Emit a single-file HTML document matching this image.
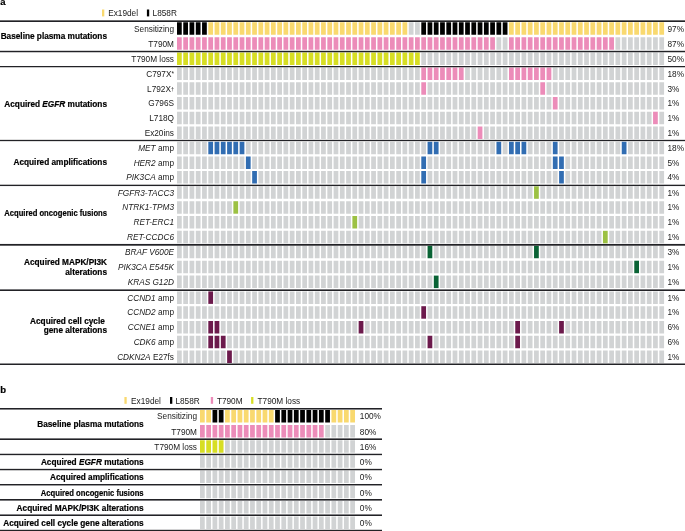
<!DOCTYPE html><html><head><meta charset="utf-8"><style>html,body{margin:0;padding:0;background:#fff;width:685px;height:531px;overflow:hidden}svg{display:block}text{font-family:"Liberation Sans",sans-serif;fill:#1a1a1a}text[font-weight=bold]{fill:#000;stroke:#000;stroke-width:0.2px}svg{will-change:transform}</style></head><body>
<svg width="685" height="531" viewBox="0 0 685 531">
<path fill="#000000" d="M177.00 22.30h4.75v12.5h-4.75zM183.26 22.30h4.75v12.5h-4.75zM189.53 22.30h4.75v12.5h-4.75zM195.79 22.30h4.75v12.5h-4.75zM202.06 22.30h4.75v12.5h-4.75zM421.30 22.30h4.75v12.5h-4.75zM427.56 22.30h4.75v12.5h-4.75zM433.82 22.30h4.75v12.5h-4.75zM440.09 22.30h4.75v12.5h-4.75zM446.35 22.30h4.75v12.5h-4.75zM452.62 22.30h4.75v12.5h-4.75zM458.88 22.30h4.75v12.5h-4.75zM465.14 22.30h4.75v12.5h-4.75zM471.41 22.30h4.75v12.5h-4.75zM477.67 22.30h4.75v12.5h-4.75zM483.94 22.30h4.75v12.5h-4.75zM490.20 22.30h4.75v12.5h-4.75zM496.46 22.30h4.75v12.5h-4.75zM502.73 22.30h4.75v12.5h-4.75z"/>
<path fill="#f9d96f" d="M208.32 22.30h4.75v12.5h-4.75zM214.58 22.30h4.75v12.5h-4.75zM220.85 22.30h4.75v12.5h-4.75zM227.11 22.30h4.75v12.5h-4.75zM233.38 22.30h4.75v12.5h-4.75zM239.64 22.30h4.75v12.5h-4.75zM245.90 22.30h4.75v12.5h-4.75zM252.17 22.30h4.75v12.5h-4.75zM258.43 22.30h4.75v12.5h-4.75zM264.70 22.30h4.75v12.5h-4.75zM270.96 22.30h4.75v12.5h-4.75zM277.22 22.30h4.75v12.5h-4.75zM283.49 22.30h4.75v12.5h-4.75zM289.75 22.30h4.75v12.5h-4.75zM296.02 22.30h4.75v12.5h-4.75zM302.28 22.30h4.75v12.5h-4.75zM308.54 22.30h4.75v12.5h-4.75zM314.81 22.30h4.75v12.5h-4.75zM321.07 22.30h4.75v12.5h-4.75zM327.34 22.30h4.75v12.5h-4.75zM333.60 22.30h4.75v12.5h-4.75zM339.86 22.30h4.75v12.5h-4.75zM346.13 22.30h4.75v12.5h-4.75zM352.39 22.30h4.75v12.5h-4.75zM358.66 22.30h4.75v12.5h-4.75zM364.92 22.30h4.75v12.5h-4.75zM371.18 22.30h4.75v12.5h-4.75zM377.45 22.30h4.75v12.5h-4.75zM383.71 22.30h4.75v12.5h-4.75zM389.98 22.30h4.75v12.5h-4.75zM396.24 22.30h4.75v12.5h-4.75zM402.50 22.30h4.75v12.5h-4.75zM508.99 22.30h4.75v12.5h-4.75zM515.26 22.30h4.75v12.5h-4.75zM521.52 22.30h4.75v12.5h-4.75zM527.78 22.30h4.75v12.5h-4.75zM534.05 22.30h4.75v12.5h-4.75zM540.31 22.30h4.75v12.5h-4.75zM546.58 22.30h4.75v12.5h-4.75zM552.84 22.30h4.75v12.5h-4.75zM559.10 22.30h4.75v12.5h-4.75zM565.37 22.30h4.75v12.5h-4.75zM571.63 22.30h4.75v12.5h-4.75zM577.90 22.30h4.75v12.5h-4.75zM584.16 22.30h4.75v12.5h-4.75zM590.42 22.30h4.75v12.5h-4.75zM596.69 22.30h4.75v12.5h-4.75zM602.95 22.30h4.75v12.5h-4.75zM609.22 22.30h4.75v12.5h-4.75zM615.48 22.30h4.75v12.5h-4.75zM621.74 22.30h4.75v12.5h-4.75zM628.01 22.30h4.75v12.5h-4.75zM634.27 22.30h4.75v12.5h-4.75zM640.54 22.30h4.75v12.5h-4.75zM646.80 22.30h4.75v12.5h-4.75zM653.06 22.30h4.75v12.5h-4.75zM659.33 22.30h4.75v12.5h-4.75z"/>
<path fill="#d1d3d4" d="M408.77 22.30h4.75v12.5h-4.75zM415.03 22.30h4.75v12.5h-4.75z"/>
<path fill="#ec8cb9" d="M177.00 37.20h4.75v12.5h-4.75zM183.26 37.20h4.75v12.5h-4.75zM189.53 37.20h4.75v12.5h-4.75zM195.79 37.20h4.75v12.5h-4.75zM202.06 37.20h4.75v12.5h-4.75zM208.32 37.20h4.75v12.5h-4.75zM214.58 37.20h4.75v12.5h-4.75zM220.85 37.20h4.75v12.5h-4.75zM227.11 37.20h4.75v12.5h-4.75zM233.38 37.20h4.75v12.5h-4.75zM239.64 37.20h4.75v12.5h-4.75zM245.90 37.20h4.75v12.5h-4.75zM252.17 37.20h4.75v12.5h-4.75zM258.43 37.20h4.75v12.5h-4.75zM264.70 37.20h4.75v12.5h-4.75zM270.96 37.20h4.75v12.5h-4.75zM277.22 37.20h4.75v12.5h-4.75zM283.49 37.20h4.75v12.5h-4.75zM289.75 37.20h4.75v12.5h-4.75zM296.02 37.20h4.75v12.5h-4.75zM302.28 37.20h4.75v12.5h-4.75zM308.54 37.20h4.75v12.5h-4.75zM314.81 37.20h4.75v12.5h-4.75zM321.07 37.20h4.75v12.5h-4.75zM327.34 37.20h4.75v12.5h-4.75zM333.60 37.20h4.75v12.5h-4.75zM339.86 37.20h4.75v12.5h-4.75zM346.13 37.20h4.75v12.5h-4.75zM352.39 37.20h4.75v12.5h-4.75zM358.66 37.20h4.75v12.5h-4.75zM364.92 37.20h4.75v12.5h-4.75zM371.18 37.20h4.75v12.5h-4.75zM377.45 37.20h4.75v12.5h-4.75zM383.71 37.20h4.75v12.5h-4.75zM389.98 37.20h4.75v12.5h-4.75zM396.24 37.20h4.75v12.5h-4.75zM402.50 37.20h4.75v12.5h-4.75zM408.77 37.20h4.75v12.5h-4.75zM415.03 37.20h4.75v12.5h-4.75zM421.30 37.20h4.75v12.5h-4.75zM427.56 37.20h4.75v12.5h-4.75zM433.82 37.20h4.75v12.5h-4.75zM440.09 37.20h4.75v12.5h-4.75zM446.35 37.20h4.75v12.5h-4.75zM452.62 37.20h4.75v12.5h-4.75zM458.88 37.20h4.75v12.5h-4.75zM465.14 37.20h4.75v12.5h-4.75zM471.41 37.20h4.75v12.5h-4.75zM477.67 37.20h4.75v12.5h-4.75zM483.94 37.20h4.75v12.5h-4.75zM490.20 37.20h4.75v12.5h-4.75zM508.99 37.20h4.75v12.5h-4.75zM515.26 37.20h4.75v12.5h-4.75zM521.52 37.20h4.75v12.5h-4.75zM527.78 37.20h4.75v12.5h-4.75zM534.05 37.20h4.75v12.5h-4.75zM540.31 37.20h4.75v12.5h-4.75zM546.58 37.20h4.75v12.5h-4.75zM552.84 37.20h4.75v12.5h-4.75zM559.10 37.20h4.75v12.5h-4.75zM565.37 37.20h4.75v12.5h-4.75zM571.63 37.20h4.75v12.5h-4.75zM577.90 37.20h4.75v12.5h-4.75zM584.16 37.20h4.75v12.5h-4.75zM590.42 37.20h4.75v12.5h-4.75zM596.69 37.20h4.75v12.5h-4.75zM602.95 37.20h4.75v12.5h-4.75zM609.22 37.20h4.75v12.5h-4.75z"/>
<path fill="#d1d3d4" d="M496.46 37.20h4.75v12.5h-4.75zM502.73 37.20h4.75v12.5h-4.75zM615.48 37.20h4.75v12.5h-4.75zM621.74 37.20h4.75v12.5h-4.75zM628.01 37.20h4.75v12.5h-4.75zM634.27 37.20h4.75v12.5h-4.75zM640.54 37.20h4.75v12.5h-4.75zM646.80 37.20h4.75v12.5h-4.75zM653.06 37.20h4.75v12.5h-4.75zM659.33 37.20h4.75v12.5h-4.75z"/>
<path fill="#d7de24" d="M177.00 52.50h4.75v12.5h-4.75zM183.26 52.50h4.75v12.5h-4.75zM189.53 52.50h4.75v12.5h-4.75zM195.79 52.50h4.75v12.5h-4.75zM202.06 52.50h4.75v12.5h-4.75zM208.32 52.50h4.75v12.5h-4.75zM214.58 52.50h4.75v12.5h-4.75zM220.85 52.50h4.75v12.5h-4.75zM227.11 52.50h4.75v12.5h-4.75zM233.38 52.50h4.75v12.5h-4.75zM239.64 52.50h4.75v12.5h-4.75zM245.90 52.50h4.75v12.5h-4.75zM252.17 52.50h4.75v12.5h-4.75zM258.43 52.50h4.75v12.5h-4.75zM264.70 52.50h4.75v12.5h-4.75zM270.96 52.50h4.75v12.5h-4.75zM277.22 52.50h4.75v12.5h-4.75zM283.49 52.50h4.75v12.5h-4.75zM289.75 52.50h4.75v12.5h-4.75zM296.02 52.50h4.75v12.5h-4.75zM302.28 52.50h4.75v12.5h-4.75zM308.54 52.50h4.75v12.5h-4.75zM314.81 52.50h4.75v12.5h-4.75zM321.07 52.50h4.75v12.5h-4.75zM327.34 52.50h4.75v12.5h-4.75zM333.60 52.50h4.75v12.5h-4.75zM339.86 52.50h4.75v12.5h-4.75zM346.13 52.50h4.75v12.5h-4.75zM352.39 52.50h4.75v12.5h-4.75zM358.66 52.50h4.75v12.5h-4.75zM364.92 52.50h4.75v12.5h-4.75zM371.18 52.50h4.75v12.5h-4.75zM377.45 52.50h4.75v12.5h-4.75zM383.71 52.50h4.75v12.5h-4.75zM389.98 52.50h4.75v12.5h-4.75zM396.24 52.50h4.75v12.5h-4.75zM402.50 52.50h4.75v12.5h-4.75zM408.77 52.50h4.75v12.5h-4.75zM415.03 52.50h4.75v12.5h-4.75z"/>
<path fill="#d1d3d4" d="M421.30 52.50h4.75v12.5h-4.75zM427.56 52.50h4.75v12.5h-4.75zM433.82 52.50h4.75v12.5h-4.75zM440.09 52.50h4.75v12.5h-4.75zM446.35 52.50h4.75v12.5h-4.75zM452.62 52.50h4.75v12.5h-4.75zM458.88 52.50h4.75v12.5h-4.75zM465.14 52.50h4.75v12.5h-4.75zM471.41 52.50h4.75v12.5h-4.75zM477.67 52.50h4.75v12.5h-4.75zM483.94 52.50h4.75v12.5h-4.75zM490.20 52.50h4.75v12.5h-4.75zM496.46 52.50h4.75v12.5h-4.75zM502.73 52.50h4.75v12.5h-4.75zM508.99 52.50h4.75v12.5h-4.75zM515.26 52.50h4.75v12.5h-4.75zM521.52 52.50h4.75v12.5h-4.75zM527.78 52.50h4.75v12.5h-4.75zM534.05 52.50h4.75v12.5h-4.75zM540.31 52.50h4.75v12.5h-4.75zM546.58 52.50h4.75v12.5h-4.75zM552.84 52.50h4.75v12.5h-4.75zM559.10 52.50h4.75v12.5h-4.75zM565.37 52.50h4.75v12.5h-4.75zM571.63 52.50h4.75v12.5h-4.75zM577.90 52.50h4.75v12.5h-4.75zM584.16 52.50h4.75v12.5h-4.75zM590.42 52.50h4.75v12.5h-4.75zM596.69 52.50h4.75v12.5h-4.75zM602.95 52.50h4.75v12.5h-4.75zM609.22 52.50h4.75v12.5h-4.75zM615.48 52.50h4.75v12.5h-4.75zM621.74 52.50h4.75v12.5h-4.75zM628.01 52.50h4.75v12.5h-4.75zM634.27 52.50h4.75v12.5h-4.75zM640.54 52.50h4.75v12.5h-4.75zM646.80 52.50h4.75v12.5h-4.75zM653.06 52.50h4.75v12.5h-4.75zM659.33 52.50h4.75v12.5h-4.75z"/>
<path fill="#ec8cb9" d="M421.30 67.60h4.75v12.5h-4.75zM427.56 67.60h4.75v12.5h-4.75zM433.82 67.60h4.75v12.5h-4.75zM440.09 67.60h4.75v12.5h-4.75zM446.35 67.60h4.75v12.5h-4.75zM452.62 67.60h4.75v12.5h-4.75zM458.88 67.60h4.75v12.5h-4.75zM508.99 67.60h4.75v12.5h-4.75zM515.26 67.60h4.75v12.5h-4.75zM521.52 67.60h4.75v12.5h-4.75zM527.78 67.60h4.75v12.5h-4.75zM534.05 67.60h4.75v12.5h-4.75zM540.31 67.60h4.75v12.5h-4.75zM546.58 67.60h4.75v12.5h-4.75z"/>
<path fill="#d1d3d4" d="M177.00 67.60h4.75v12.5h-4.75zM183.26 67.60h4.75v12.5h-4.75zM189.53 67.60h4.75v12.5h-4.75zM195.79 67.60h4.75v12.5h-4.75zM202.06 67.60h4.75v12.5h-4.75zM208.32 67.60h4.75v12.5h-4.75zM214.58 67.60h4.75v12.5h-4.75zM220.85 67.60h4.75v12.5h-4.75zM227.11 67.60h4.75v12.5h-4.75zM233.38 67.60h4.75v12.5h-4.75zM239.64 67.60h4.75v12.5h-4.75zM245.90 67.60h4.75v12.5h-4.75zM252.17 67.60h4.75v12.5h-4.75zM258.43 67.60h4.75v12.5h-4.75zM264.70 67.60h4.75v12.5h-4.75zM270.96 67.60h4.75v12.5h-4.75zM277.22 67.60h4.75v12.5h-4.75zM283.49 67.60h4.75v12.5h-4.75zM289.75 67.60h4.75v12.5h-4.75zM296.02 67.60h4.75v12.5h-4.75zM302.28 67.60h4.75v12.5h-4.75zM308.54 67.60h4.75v12.5h-4.75zM314.81 67.60h4.75v12.5h-4.75zM321.07 67.60h4.75v12.5h-4.75zM327.34 67.60h4.75v12.5h-4.75zM333.60 67.60h4.75v12.5h-4.75zM339.86 67.60h4.75v12.5h-4.75zM346.13 67.60h4.75v12.5h-4.75zM352.39 67.60h4.75v12.5h-4.75zM358.66 67.60h4.75v12.5h-4.75zM364.92 67.60h4.75v12.5h-4.75zM371.18 67.60h4.75v12.5h-4.75zM377.45 67.60h4.75v12.5h-4.75zM383.71 67.60h4.75v12.5h-4.75zM389.98 67.60h4.75v12.5h-4.75zM396.24 67.60h4.75v12.5h-4.75zM402.50 67.60h4.75v12.5h-4.75zM408.77 67.60h4.75v12.5h-4.75zM415.03 67.60h4.75v12.5h-4.75zM465.14 67.60h4.75v12.5h-4.75zM471.41 67.60h4.75v12.5h-4.75zM477.67 67.60h4.75v12.5h-4.75zM483.94 67.60h4.75v12.5h-4.75zM490.20 67.60h4.75v12.5h-4.75zM496.46 67.60h4.75v12.5h-4.75zM502.73 67.60h4.75v12.5h-4.75zM552.84 67.60h4.75v12.5h-4.75zM559.10 67.60h4.75v12.5h-4.75zM565.37 67.60h4.75v12.5h-4.75zM571.63 67.60h4.75v12.5h-4.75zM577.90 67.60h4.75v12.5h-4.75zM584.16 67.60h4.75v12.5h-4.75zM590.42 67.60h4.75v12.5h-4.75zM596.69 67.60h4.75v12.5h-4.75zM602.95 67.60h4.75v12.5h-4.75zM609.22 67.60h4.75v12.5h-4.75zM615.48 67.60h4.75v12.5h-4.75zM621.74 67.60h4.75v12.5h-4.75zM628.01 67.60h4.75v12.5h-4.75zM634.27 67.60h4.75v12.5h-4.75zM640.54 67.60h4.75v12.5h-4.75zM646.80 67.60h4.75v12.5h-4.75zM653.06 67.60h4.75v12.5h-4.75zM659.33 67.60h4.75v12.5h-4.75z"/>
<path fill="#ec8cb9" d="M421.30 82.30h4.75v12.5h-4.75zM540.31 82.30h4.75v12.5h-4.75z"/>
<path fill="#d1d3d4" d="M177.00 82.30h4.75v12.5h-4.75zM183.26 82.30h4.75v12.5h-4.75zM189.53 82.30h4.75v12.5h-4.75zM195.79 82.30h4.75v12.5h-4.75zM202.06 82.30h4.75v12.5h-4.75zM208.32 82.30h4.75v12.5h-4.75zM214.58 82.30h4.75v12.5h-4.75zM220.85 82.30h4.75v12.5h-4.75zM227.11 82.30h4.75v12.5h-4.75zM233.38 82.30h4.75v12.5h-4.75zM239.64 82.30h4.75v12.5h-4.75zM245.90 82.30h4.75v12.5h-4.75zM252.17 82.30h4.75v12.5h-4.75zM258.43 82.30h4.75v12.5h-4.75zM264.70 82.30h4.75v12.5h-4.75zM270.96 82.30h4.75v12.5h-4.75zM277.22 82.30h4.75v12.5h-4.75zM283.49 82.30h4.75v12.5h-4.75zM289.75 82.30h4.75v12.5h-4.75zM296.02 82.30h4.75v12.5h-4.75zM302.28 82.30h4.75v12.5h-4.75zM308.54 82.30h4.75v12.5h-4.75zM314.81 82.30h4.75v12.5h-4.75zM321.07 82.30h4.75v12.5h-4.75zM327.34 82.30h4.75v12.5h-4.75zM333.60 82.30h4.75v12.5h-4.75zM339.86 82.30h4.75v12.5h-4.75zM346.13 82.30h4.75v12.5h-4.75zM352.39 82.30h4.75v12.5h-4.75zM358.66 82.30h4.75v12.5h-4.75zM364.92 82.30h4.75v12.5h-4.75zM371.18 82.30h4.75v12.5h-4.75zM377.45 82.30h4.75v12.5h-4.75zM383.71 82.30h4.75v12.5h-4.75zM389.98 82.30h4.75v12.5h-4.75zM396.24 82.30h4.75v12.5h-4.75zM402.50 82.30h4.75v12.5h-4.75zM408.77 82.30h4.75v12.5h-4.75zM415.03 82.30h4.75v12.5h-4.75zM427.56 82.30h4.75v12.5h-4.75zM433.82 82.30h4.75v12.5h-4.75zM440.09 82.30h4.75v12.5h-4.75zM446.35 82.30h4.75v12.5h-4.75zM452.62 82.30h4.75v12.5h-4.75zM458.88 82.30h4.75v12.5h-4.75zM465.14 82.30h4.75v12.5h-4.75zM471.41 82.30h4.75v12.5h-4.75zM477.67 82.30h4.75v12.5h-4.75zM483.94 82.30h4.75v12.5h-4.75zM490.20 82.30h4.75v12.5h-4.75zM496.46 82.30h4.75v12.5h-4.75zM502.73 82.30h4.75v12.5h-4.75zM508.99 82.30h4.75v12.5h-4.75zM515.26 82.30h4.75v12.5h-4.75zM521.52 82.30h4.75v12.5h-4.75zM527.78 82.30h4.75v12.5h-4.75zM534.05 82.30h4.75v12.5h-4.75zM546.58 82.30h4.75v12.5h-4.75zM552.84 82.30h4.75v12.5h-4.75zM559.10 82.30h4.75v12.5h-4.75zM565.37 82.30h4.75v12.5h-4.75zM571.63 82.30h4.75v12.5h-4.75zM577.90 82.30h4.75v12.5h-4.75zM584.16 82.30h4.75v12.5h-4.75zM590.42 82.30h4.75v12.5h-4.75zM596.69 82.30h4.75v12.5h-4.75zM602.95 82.30h4.75v12.5h-4.75zM609.22 82.30h4.75v12.5h-4.75zM615.48 82.30h4.75v12.5h-4.75zM621.74 82.30h4.75v12.5h-4.75zM628.01 82.30h4.75v12.5h-4.75zM634.27 82.30h4.75v12.5h-4.75zM640.54 82.30h4.75v12.5h-4.75zM646.80 82.30h4.75v12.5h-4.75zM653.06 82.30h4.75v12.5h-4.75zM659.33 82.30h4.75v12.5h-4.75z"/>
<path fill="#ec8cb9" d="M552.84 97.00h4.75v12.5h-4.75z"/>
<path fill="#d1d3d4" d="M177.00 97.00h4.75v12.5h-4.75zM183.26 97.00h4.75v12.5h-4.75zM189.53 97.00h4.75v12.5h-4.75zM195.79 97.00h4.75v12.5h-4.75zM202.06 97.00h4.75v12.5h-4.75zM208.32 97.00h4.75v12.5h-4.75zM214.58 97.00h4.75v12.5h-4.75zM220.85 97.00h4.75v12.5h-4.75zM227.11 97.00h4.75v12.5h-4.75zM233.38 97.00h4.75v12.5h-4.75zM239.64 97.00h4.75v12.5h-4.75zM245.90 97.00h4.75v12.5h-4.75zM252.17 97.00h4.75v12.5h-4.75zM258.43 97.00h4.75v12.5h-4.75zM264.70 97.00h4.75v12.5h-4.75zM270.96 97.00h4.75v12.5h-4.75zM277.22 97.00h4.75v12.5h-4.75zM283.49 97.00h4.75v12.5h-4.75zM289.75 97.00h4.75v12.5h-4.75zM296.02 97.00h4.75v12.5h-4.75zM302.28 97.00h4.75v12.5h-4.75zM308.54 97.00h4.75v12.5h-4.75zM314.81 97.00h4.75v12.5h-4.75zM321.07 97.00h4.75v12.5h-4.75zM327.34 97.00h4.75v12.5h-4.75zM333.60 97.00h4.75v12.5h-4.75zM339.86 97.00h4.75v12.5h-4.75zM346.13 97.00h4.75v12.5h-4.75zM352.39 97.00h4.75v12.5h-4.75zM358.66 97.00h4.75v12.5h-4.75zM364.92 97.00h4.75v12.5h-4.75zM371.18 97.00h4.75v12.5h-4.75zM377.45 97.00h4.75v12.5h-4.75zM383.71 97.00h4.75v12.5h-4.75zM389.98 97.00h4.75v12.5h-4.75zM396.24 97.00h4.75v12.5h-4.75zM402.50 97.00h4.75v12.5h-4.75zM408.77 97.00h4.75v12.5h-4.75zM415.03 97.00h4.75v12.5h-4.75zM421.30 97.00h4.75v12.5h-4.75zM427.56 97.00h4.75v12.5h-4.75zM433.82 97.00h4.75v12.5h-4.75zM440.09 97.00h4.75v12.5h-4.75zM446.35 97.00h4.75v12.5h-4.75zM452.62 97.00h4.75v12.5h-4.75zM458.88 97.00h4.75v12.5h-4.75zM465.14 97.00h4.75v12.5h-4.75zM471.41 97.00h4.75v12.5h-4.75zM477.67 97.00h4.75v12.5h-4.75zM483.94 97.00h4.75v12.5h-4.75zM490.20 97.00h4.75v12.5h-4.75zM496.46 97.00h4.75v12.5h-4.75zM502.73 97.00h4.75v12.5h-4.75zM508.99 97.00h4.75v12.5h-4.75zM515.26 97.00h4.75v12.5h-4.75zM521.52 97.00h4.75v12.5h-4.75zM527.78 97.00h4.75v12.5h-4.75zM534.05 97.00h4.75v12.5h-4.75zM540.31 97.00h4.75v12.5h-4.75zM546.58 97.00h4.75v12.5h-4.75zM559.10 97.00h4.75v12.5h-4.75zM565.37 97.00h4.75v12.5h-4.75zM571.63 97.00h4.75v12.5h-4.75zM577.90 97.00h4.75v12.5h-4.75zM584.16 97.00h4.75v12.5h-4.75zM590.42 97.00h4.75v12.5h-4.75zM596.69 97.00h4.75v12.5h-4.75zM602.95 97.00h4.75v12.5h-4.75zM609.22 97.00h4.75v12.5h-4.75zM615.48 97.00h4.75v12.5h-4.75zM621.74 97.00h4.75v12.5h-4.75zM628.01 97.00h4.75v12.5h-4.75zM634.27 97.00h4.75v12.5h-4.75zM640.54 97.00h4.75v12.5h-4.75zM646.80 97.00h4.75v12.5h-4.75zM653.06 97.00h4.75v12.5h-4.75zM659.33 97.00h4.75v12.5h-4.75z"/>
<path fill="#ec8cb9" d="M653.06 111.70h4.75v12.5h-4.75z"/>
<path fill="#d1d3d4" d="M177.00 111.70h4.75v12.5h-4.75zM183.26 111.70h4.75v12.5h-4.75zM189.53 111.70h4.75v12.5h-4.75zM195.79 111.70h4.75v12.5h-4.75zM202.06 111.70h4.75v12.5h-4.75zM208.32 111.70h4.75v12.5h-4.75zM214.58 111.70h4.75v12.5h-4.75zM220.85 111.70h4.75v12.5h-4.75zM227.11 111.70h4.75v12.5h-4.75zM233.38 111.70h4.75v12.5h-4.75zM239.64 111.70h4.75v12.5h-4.75zM245.90 111.70h4.75v12.5h-4.75zM252.17 111.70h4.75v12.5h-4.75zM258.43 111.70h4.75v12.5h-4.75zM264.70 111.70h4.75v12.5h-4.75zM270.96 111.70h4.75v12.5h-4.75zM277.22 111.70h4.75v12.5h-4.75zM283.49 111.70h4.75v12.5h-4.75zM289.75 111.70h4.75v12.5h-4.75zM296.02 111.70h4.75v12.5h-4.75zM302.28 111.70h4.75v12.5h-4.75zM308.54 111.70h4.75v12.5h-4.75zM314.81 111.70h4.75v12.5h-4.75zM321.07 111.70h4.75v12.5h-4.75zM327.34 111.70h4.75v12.5h-4.75zM333.60 111.70h4.75v12.5h-4.75zM339.86 111.70h4.75v12.5h-4.75zM346.13 111.70h4.75v12.5h-4.75zM352.39 111.70h4.75v12.5h-4.75zM358.66 111.70h4.75v12.5h-4.75zM364.92 111.70h4.75v12.5h-4.75zM371.18 111.70h4.75v12.5h-4.75zM377.45 111.70h4.75v12.5h-4.75zM383.71 111.70h4.75v12.5h-4.75zM389.98 111.70h4.75v12.5h-4.75zM396.24 111.70h4.75v12.5h-4.75zM402.50 111.70h4.75v12.5h-4.75zM408.77 111.70h4.75v12.5h-4.75zM415.03 111.70h4.75v12.5h-4.75zM421.30 111.70h4.75v12.5h-4.75zM427.56 111.70h4.75v12.5h-4.75zM433.82 111.70h4.75v12.5h-4.75zM440.09 111.70h4.75v12.5h-4.75zM446.35 111.70h4.75v12.5h-4.75zM452.62 111.70h4.75v12.5h-4.75zM458.88 111.70h4.75v12.5h-4.75zM465.14 111.70h4.75v12.5h-4.75zM471.41 111.70h4.75v12.5h-4.75zM477.67 111.70h4.75v12.5h-4.75zM483.94 111.70h4.75v12.5h-4.75zM490.20 111.70h4.75v12.5h-4.75zM496.46 111.70h4.75v12.5h-4.75zM502.73 111.70h4.75v12.5h-4.75zM508.99 111.70h4.75v12.5h-4.75zM515.26 111.70h4.75v12.5h-4.75zM521.52 111.70h4.75v12.5h-4.75zM527.78 111.70h4.75v12.5h-4.75zM534.05 111.70h4.75v12.5h-4.75zM540.31 111.70h4.75v12.5h-4.75zM546.58 111.70h4.75v12.5h-4.75zM552.84 111.70h4.75v12.5h-4.75zM559.10 111.70h4.75v12.5h-4.75zM565.37 111.70h4.75v12.5h-4.75zM571.63 111.70h4.75v12.5h-4.75zM577.90 111.70h4.75v12.5h-4.75zM584.16 111.70h4.75v12.5h-4.75zM590.42 111.70h4.75v12.5h-4.75zM596.69 111.70h4.75v12.5h-4.75zM602.95 111.70h4.75v12.5h-4.75zM609.22 111.70h4.75v12.5h-4.75zM615.48 111.70h4.75v12.5h-4.75zM621.74 111.70h4.75v12.5h-4.75zM628.01 111.70h4.75v12.5h-4.75zM634.27 111.70h4.75v12.5h-4.75zM640.54 111.70h4.75v12.5h-4.75zM646.80 111.70h4.75v12.5h-4.75zM659.33 111.70h4.75v12.5h-4.75z"/>
<path fill="#ec8cb9" d="M477.67 126.50h4.75v12.5h-4.75z"/>
<path fill="#d1d3d4" d="M177.00 126.50h4.75v12.5h-4.75zM183.26 126.50h4.75v12.5h-4.75zM189.53 126.50h4.75v12.5h-4.75zM195.79 126.50h4.75v12.5h-4.75zM202.06 126.50h4.75v12.5h-4.75zM208.32 126.50h4.75v12.5h-4.75zM214.58 126.50h4.75v12.5h-4.75zM220.85 126.50h4.75v12.5h-4.75zM227.11 126.50h4.75v12.5h-4.75zM233.38 126.50h4.75v12.5h-4.75zM239.64 126.50h4.75v12.5h-4.75zM245.90 126.50h4.75v12.5h-4.75zM252.17 126.50h4.75v12.5h-4.75zM258.43 126.50h4.75v12.5h-4.75zM264.70 126.50h4.75v12.5h-4.75zM270.96 126.50h4.75v12.5h-4.75zM277.22 126.50h4.75v12.5h-4.75zM283.49 126.50h4.75v12.5h-4.75zM289.75 126.50h4.75v12.5h-4.75zM296.02 126.50h4.75v12.5h-4.75zM302.28 126.50h4.75v12.5h-4.75zM308.54 126.50h4.75v12.5h-4.75zM314.81 126.50h4.75v12.5h-4.75zM321.07 126.50h4.75v12.5h-4.75zM327.34 126.50h4.75v12.5h-4.75zM333.60 126.50h4.75v12.5h-4.75zM339.86 126.50h4.75v12.5h-4.75zM346.13 126.50h4.75v12.5h-4.75zM352.39 126.50h4.75v12.5h-4.75zM358.66 126.50h4.75v12.5h-4.75zM364.92 126.50h4.75v12.5h-4.75zM371.18 126.50h4.75v12.5h-4.75zM377.45 126.50h4.75v12.5h-4.75zM383.71 126.50h4.75v12.5h-4.75zM389.98 126.50h4.75v12.5h-4.75zM396.24 126.50h4.75v12.5h-4.75zM402.50 126.50h4.75v12.5h-4.75zM408.77 126.50h4.75v12.5h-4.75zM415.03 126.50h4.75v12.5h-4.75zM421.30 126.50h4.75v12.5h-4.75zM427.56 126.50h4.75v12.5h-4.75zM433.82 126.50h4.75v12.5h-4.75zM440.09 126.50h4.75v12.5h-4.75zM446.35 126.50h4.75v12.5h-4.75zM452.62 126.50h4.75v12.5h-4.75zM458.88 126.50h4.75v12.5h-4.75zM465.14 126.50h4.75v12.5h-4.75zM471.41 126.50h4.75v12.5h-4.75zM483.94 126.50h4.75v12.5h-4.75zM490.20 126.50h4.75v12.5h-4.75zM496.46 126.50h4.75v12.5h-4.75zM502.73 126.50h4.75v12.5h-4.75zM508.99 126.50h4.75v12.5h-4.75zM515.26 126.50h4.75v12.5h-4.75zM521.52 126.50h4.75v12.5h-4.75zM527.78 126.50h4.75v12.5h-4.75zM534.05 126.50h4.75v12.5h-4.75zM540.31 126.50h4.75v12.5h-4.75zM546.58 126.50h4.75v12.5h-4.75zM552.84 126.50h4.75v12.5h-4.75zM559.10 126.50h4.75v12.5h-4.75zM565.37 126.50h4.75v12.5h-4.75zM571.63 126.50h4.75v12.5h-4.75zM577.90 126.50h4.75v12.5h-4.75zM584.16 126.50h4.75v12.5h-4.75zM590.42 126.50h4.75v12.5h-4.75zM596.69 126.50h4.75v12.5h-4.75zM602.95 126.50h4.75v12.5h-4.75zM609.22 126.50h4.75v12.5h-4.75zM615.48 126.50h4.75v12.5h-4.75zM621.74 126.50h4.75v12.5h-4.75zM628.01 126.50h4.75v12.5h-4.75zM634.27 126.50h4.75v12.5h-4.75zM640.54 126.50h4.75v12.5h-4.75zM646.80 126.50h4.75v12.5h-4.75zM653.06 126.50h4.75v12.5h-4.75zM659.33 126.50h4.75v12.5h-4.75z"/>
<path fill="#316db2" d="M208.32 141.80h4.75v12.5h-4.75zM214.58 141.80h4.75v12.5h-4.75zM220.85 141.80h4.75v12.5h-4.75zM227.11 141.80h4.75v12.5h-4.75zM233.38 141.80h4.75v12.5h-4.75zM239.64 141.80h4.75v12.5h-4.75zM427.56 141.80h4.75v12.5h-4.75zM433.82 141.80h4.75v12.5h-4.75zM496.46 141.80h4.75v12.5h-4.75zM508.99 141.80h4.75v12.5h-4.75zM515.26 141.80h4.75v12.5h-4.75zM521.52 141.80h4.75v12.5h-4.75zM552.84 141.80h4.75v12.5h-4.75zM621.74 141.80h4.75v12.5h-4.75z"/>
<path fill="#d1d3d4" d="M177.00 141.80h4.75v12.5h-4.75zM183.26 141.80h4.75v12.5h-4.75zM189.53 141.80h4.75v12.5h-4.75zM195.79 141.80h4.75v12.5h-4.75zM202.06 141.80h4.75v12.5h-4.75zM245.90 141.80h4.75v12.5h-4.75zM252.17 141.80h4.75v12.5h-4.75zM258.43 141.80h4.75v12.5h-4.75zM264.70 141.80h4.75v12.5h-4.75zM270.96 141.80h4.75v12.5h-4.75zM277.22 141.80h4.75v12.5h-4.75zM283.49 141.80h4.75v12.5h-4.75zM289.75 141.80h4.75v12.5h-4.75zM296.02 141.80h4.75v12.5h-4.75zM302.28 141.80h4.75v12.5h-4.75zM308.54 141.80h4.75v12.5h-4.75zM314.81 141.80h4.75v12.5h-4.75zM321.07 141.80h4.75v12.5h-4.75zM327.34 141.80h4.75v12.5h-4.75zM333.60 141.80h4.75v12.5h-4.75zM339.86 141.80h4.75v12.5h-4.75zM346.13 141.80h4.75v12.5h-4.75zM352.39 141.80h4.75v12.5h-4.75zM358.66 141.80h4.75v12.5h-4.75zM364.92 141.80h4.75v12.5h-4.75zM371.18 141.80h4.75v12.5h-4.75zM377.45 141.80h4.75v12.5h-4.75zM383.71 141.80h4.75v12.5h-4.75zM389.98 141.80h4.75v12.5h-4.75zM396.24 141.80h4.75v12.5h-4.75zM402.50 141.80h4.75v12.5h-4.75zM408.77 141.80h4.75v12.5h-4.75zM415.03 141.80h4.75v12.5h-4.75zM421.30 141.80h4.75v12.5h-4.75zM440.09 141.80h4.75v12.5h-4.75zM446.35 141.80h4.75v12.5h-4.75zM452.62 141.80h4.75v12.5h-4.75zM458.88 141.80h4.75v12.5h-4.75zM465.14 141.80h4.75v12.5h-4.75zM471.41 141.80h4.75v12.5h-4.75zM477.67 141.80h4.75v12.5h-4.75zM483.94 141.80h4.75v12.5h-4.75zM490.20 141.80h4.75v12.5h-4.75zM502.73 141.80h4.75v12.5h-4.75zM527.78 141.80h4.75v12.5h-4.75zM534.05 141.80h4.75v12.5h-4.75zM540.31 141.80h4.75v12.5h-4.75zM546.58 141.80h4.75v12.5h-4.75zM559.10 141.80h4.75v12.5h-4.75zM565.37 141.80h4.75v12.5h-4.75zM571.63 141.80h4.75v12.5h-4.75zM577.90 141.80h4.75v12.5h-4.75zM584.16 141.80h4.75v12.5h-4.75zM590.42 141.80h4.75v12.5h-4.75zM596.69 141.80h4.75v12.5h-4.75zM602.95 141.80h4.75v12.5h-4.75zM609.22 141.80h4.75v12.5h-4.75zM615.48 141.80h4.75v12.5h-4.75zM628.01 141.80h4.75v12.5h-4.75zM634.27 141.80h4.75v12.5h-4.75zM640.54 141.80h4.75v12.5h-4.75zM646.80 141.80h4.75v12.5h-4.75zM653.06 141.80h4.75v12.5h-4.75zM659.33 141.80h4.75v12.5h-4.75z"/>
<path fill="#316db2" d="M245.90 156.40h4.75v12.5h-4.75zM421.30 156.40h4.75v12.5h-4.75zM552.84 156.40h4.75v12.5h-4.75zM559.10 156.40h4.75v12.5h-4.75z"/>
<path fill="#d1d3d4" d="M177.00 156.40h4.75v12.5h-4.75zM183.26 156.40h4.75v12.5h-4.75zM189.53 156.40h4.75v12.5h-4.75zM195.79 156.40h4.75v12.5h-4.75zM202.06 156.40h4.75v12.5h-4.75zM208.32 156.40h4.75v12.5h-4.75zM214.58 156.40h4.75v12.5h-4.75zM220.85 156.40h4.75v12.5h-4.75zM227.11 156.40h4.75v12.5h-4.75zM233.38 156.40h4.75v12.5h-4.75zM239.64 156.40h4.75v12.5h-4.75zM252.17 156.40h4.75v12.5h-4.75zM258.43 156.40h4.75v12.5h-4.75zM264.70 156.40h4.75v12.5h-4.75zM270.96 156.40h4.75v12.5h-4.75zM277.22 156.40h4.75v12.5h-4.75zM283.49 156.40h4.75v12.5h-4.75zM289.75 156.40h4.75v12.5h-4.75zM296.02 156.40h4.75v12.5h-4.75zM302.28 156.40h4.75v12.5h-4.75zM308.54 156.40h4.75v12.5h-4.75zM314.81 156.40h4.75v12.5h-4.75zM321.07 156.40h4.75v12.5h-4.75zM327.34 156.40h4.75v12.5h-4.75zM333.60 156.40h4.75v12.5h-4.75zM339.86 156.40h4.75v12.5h-4.75zM346.13 156.40h4.75v12.5h-4.75zM352.39 156.40h4.75v12.5h-4.75zM358.66 156.40h4.75v12.5h-4.75zM364.92 156.40h4.75v12.5h-4.75zM371.18 156.40h4.75v12.5h-4.75zM377.45 156.40h4.75v12.5h-4.75zM383.71 156.40h4.75v12.5h-4.75zM389.98 156.40h4.75v12.5h-4.75zM396.24 156.40h4.75v12.5h-4.75zM402.50 156.40h4.75v12.5h-4.75zM408.77 156.40h4.75v12.5h-4.75zM415.03 156.40h4.75v12.5h-4.75zM427.56 156.40h4.75v12.5h-4.75zM433.82 156.40h4.75v12.5h-4.75zM440.09 156.40h4.75v12.5h-4.75zM446.35 156.40h4.75v12.5h-4.75zM452.62 156.40h4.75v12.5h-4.75zM458.88 156.40h4.75v12.5h-4.75zM465.14 156.40h4.75v12.5h-4.75zM471.41 156.40h4.75v12.5h-4.75zM477.67 156.40h4.75v12.5h-4.75zM483.94 156.40h4.75v12.5h-4.75zM490.20 156.40h4.75v12.5h-4.75zM496.46 156.40h4.75v12.5h-4.75zM502.73 156.40h4.75v12.5h-4.75zM508.99 156.40h4.75v12.5h-4.75zM515.26 156.40h4.75v12.5h-4.75zM521.52 156.40h4.75v12.5h-4.75zM527.78 156.40h4.75v12.5h-4.75zM534.05 156.40h4.75v12.5h-4.75zM540.31 156.40h4.75v12.5h-4.75zM546.58 156.40h4.75v12.5h-4.75zM565.37 156.40h4.75v12.5h-4.75zM571.63 156.40h4.75v12.5h-4.75zM577.90 156.40h4.75v12.5h-4.75zM584.16 156.40h4.75v12.5h-4.75zM590.42 156.40h4.75v12.5h-4.75zM596.69 156.40h4.75v12.5h-4.75zM602.95 156.40h4.75v12.5h-4.75zM609.22 156.40h4.75v12.5h-4.75zM615.48 156.40h4.75v12.5h-4.75zM621.74 156.40h4.75v12.5h-4.75zM628.01 156.40h4.75v12.5h-4.75zM634.27 156.40h4.75v12.5h-4.75zM640.54 156.40h4.75v12.5h-4.75zM646.80 156.40h4.75v12.5h-4.75zM653.06 156.40h4.75v12.5h-4.75zM659.33 156.40h4.75v12.5h-4.75z"/>
<path fill="#316db2" d="M252.17 171.10h4.75v12.5h-4.75zM421.30 171.10h4.75v12.5h-4.75zM559.10 171.10h4.75v12.5h-4.75z"/>
<path fill="#d1d3d4" d="M177.00 171.10h4.75v12.5h-4.75zM183.26 171.10h4.75v12.5h-4.75zM189.53 171.10h4.75v12.5h-4.75zM195.79 171.10h4.75v12.5h-4.75zM202.06 171.10h4.75v12.5h-4.75zM208.32 171.10h4.75v12.5h-4.75zM214.58 171.10h4.75v12.5h-4.75zM220.85 171.10h4.75v12.5h-4.75zM227.11 171.10h4.75v12.5h-4.75zM233.38 171.10h4.75v12.5h-4.75zM239.64 171.10h4.75v12.5h-4.75zM245.90 171.10h4.75v12.5h-4.75zM258.43 171.10h4.75v12.5h-4.75zM264.70 171.10h4.75v12.5h-4.75zM270.96 171.10h4.75v12.5h-4.75zM277.22 171.10h4.75v12.5h-4.75zM283.49 171.10h4.75v12.5h-4.75zM289.75 171.10h4.75v12.5h-4.75zM296.02 171.10h4.75v12.5h-4.75zM302.28 171.10h4.75v12.5h-4.75zM308.54 171.10h4.75v12.5h-4.75zM314.81 171.10h4.75v12.5h-4.75zM321.07 171.10h4.75v12.5h-4.75zM327.34 171.10h4.75v12.5h-4.75zM333.60 171.10h4.75v12.5h-4.75zM339.86 171.10h4.75v12.5h-4.75zM346.13 171.10h4.75v12.5h-4.75zM352.39 171.10h4.75v12.5h-4.75zM358.66 171.10h4.75v12.5h-4.75zM364.92 171.10h4.75v12.5h-4.75zM371.18 171.10h4.75v12.5h-4.75zM377.45 171.10h4.75v12.5h-4.75zM383.71 171.10h4.75v12.5h-4.75zM389.98 171.10h4.75v12.5h-4.75zM396.24 171.10h4.75v12.5h-4.75zM402.50 171.10h4.75v12.5h-4.75zM408.77 171.10h4.75v12.5h-4.75zM415.03 171.10h4.75v12.5h-4.75zM427.56 171.10h4.75v12.5h-4.75zM433.82 171.10h4.75v12.5h-4.75zM440.09 171.10h4.75v12.5h-4.75zM446.35 171.10h4.75v12.5h-4.75zM452.62 171.10h4.75v12.5h-4.75zM458.88 171.10h4.75v12.5h-4.75zM465.14 171.10h4.75v12.5h-4.75zM471.41 171.10h4.75v12.5h-4.75zM477.67 171.10h4.75v12.5h-4.75zM483.94 171.10h4.75v12.5h-4.75zM490.20 171.10h4.75v12.5h-4.75zM496.46 171.10h4.75v12.5h-4.75zM502.73 171.10h4.75v12.5h-4.75zM508.99 171.10h4.75v12.5h-4.75zM515.26 171.10h4.75v12.5h-4.75zM521.52 171.10h4.75v12.5h-4.75zM527.78 171.10h4.75v12.5h-4.75zM534.05 171.10h4.75v12.5h-4.75zM540.31 171.10h4.75v12.5h-4.75zM546.58 171.10h4.75v12.5h-4.75zM552.84 171.10h4.75v12.5h-4.75zM565.37 171.10h4.75v12.5h-4.75zM571.63 171.10h4.75v12.5h-4.75zM577.90 171.10h4.75v12.5h-4.75zM584.16 171.10h4.75v12.5h-4.75zM590.42 171.10h4.75v12.5h-4.75zM596.69 171.10h4.75v12.5h-4.75zM602.95 171.10h4.75v12.5h-4.75zM609.22 171.10h4.75v12.5h-4.75zM615.48 171.10h4.75v12.5h-4.75zM621.74 171.10h4.75v12.5h-4.75zM628.01 171.10h4.75v12.5h-4.75zM634.27 171.10h4.75v12.5h-4.75zM640.54 171.10h4.75v12.5h-4.75zM646.80 171.10h4.75v12.5h-4.75zM653.06 171.10h4.75v12.5h-4.75zM659.33 171.10h4.75v12.5h-4.75z"/>
<path fill="#9cc143" d="M534.05 186.30h4.75v12.5h-4.75z"/>
<path fill="#d1d3d4" d="M177.00 186.30h4.75v12.5h-4.75zM183.26 186.30h4.75v12.5h-4.75zM189.53 186.30h4.75v12.5h-4.75zM195.79 186.30h4.75v12.5h-4.75zM202.06 186.30h4.75v12.5h-4.75zM208.32 186.30h4.75v12.5h-4.75zM214.58 186.30h4.75v12.5h-4.75zM220.85 186.30h4.75v12.5h-4.75zM227.11 186.30h4.75v12.5h-4.75zM233.38 186.30h4.75v12.5h-4.75zM239.64 186.30h4.75v12.5h-4.75zM245.90 186.30h4.75v12.5h-4.75zM252.17 186.30h4.75v12.5h-4.75zM258.43 186.30h4.75v12.5h-4.75zM264.70 186.30h4.75v12.5h-4.75zM270.96 186.30h4.75v12.5h-4.75zM277.22 186.30h4.75v12.5h-4.75zM283.49 186.30h4.75v12.5h-4.75zM289.75 186.30h4.75v12.5h-4.75zM296.02 186.30h4.75v12.5h-4.75zM302.28 186.30h4.75v12.5h-4.75zM308.54 186.30h4.75v12.5h-4.75zM314.81 186.30h4.75v12.5h-4.75zM321.07 186.30h4.75v12.5h-4.75zM327.34 186.30h4.75v12.5h-4.75zM333.60 186.30h4.75v12.5h-4.75zM339.86 186.30h4.75v12.5h-4.75zM346.13 186.30h4.75v12.5h-4.75zM352.39 186.30h4.75v12.5h-4.75zM358.66 186.30h4.75v12.5h-4.75zM364.92 186.30h4.75v12.5h-4.75zM371.18 186.30h4.75v12.5h-4.75zM377.45 186.30h4.75v12.5h-4.75zM383.71 186.30h4.75v12.5h-4.75zM389.98 186.30h4.75v12.5h-4.75zM396.24 186.30h4.75v12.5h-4.75zM402.50 186.30h4.75v12.5h-4.75zM408.77 186.30h4.75v12.5h-4.75zM415.03 186.30h4.75v12.5h-4.75zM421.30 186.30h4.75v12.5h-4.75zM427.56 186.30h4.75v12.5h-4.75zM433.82 186.30h4.75v12.5h-4.75zM440.09 186.30h4.75v12.5h-4.75zM446.35 186.30h4.75v12.5h-4.75zM452.62 186.30h4.75v12.5h-4.75zM458.88 186.30h4.75v12.5h-4.75zM465.14 186.30h4.75v12.5h-4.75zM471.41 186.30h4.75v12.5h-4.75zM477.67 186.30h4.75v12.5h-4.75zM483.94 186.30h4.75v12.5h-4.75zM490.20 186.30h4.75v12.5h-4.75zM496.46 186.30h4.75v12.5h-4.75zM502.73 186.30h4.75v12.5h-4.75zM508.99 186.30h4.75v12.5h-4.75zM515.26 186.30h4.75v12.5h-4.75zM521.52 186.30h4.75v12.5h-4.75zM527.78 186.30h4.75v12.5h-4.75zM540.31 186.30h4.75v12.5h-4.75zM546.58 186.30h4.75v12.5h-4.75zM552.84 186.30h4.75v12.5h-4.75zM559.10 186.30h4.75v12.5h-4.75zM565.37 186.30h4.75v12.5h-4.75zM571.63 186.30h4.75v12.5h-4.75zM577.90 186.30h4.75v12.5h-4.75zM584.16 186.30h4.75v12.5h-4.75zM590.42 186.30h4.75v12.5h-4.75zM596.69 186.30h4.75v12.5h-4.75zM602.95 186.30h4.75v12.5h-4.75zM609.22 186.30h4.75v12.5h-4.75zM615.48 186.30h4.75v12.5h-4.75zM621.74 186.30h4.75v12.5h-4.75zM628.01 186.30h4.75v12.5h-4.75zM634.27 186.30h4.75v12.5h-4.75zM640.54 186.30h4.75v12.5h-4.75zM646.80 186.30h4.75v12.5h-4.75zM653.06 186.30h4.75v12.5h-4.75zM659.33 186.30h4.75v12.5h-4.75z"/>
<path fill="#9cc143" d="M233.38 201.20h4.75v12.5h-4.75z"/>
<path fill="#d1d3d4" d="M177.00 201.20h4.75v12.5h-4.75zM183.26 201.20h4.75v12.5h-4.75zM189.53 201.20h4.75v12.5h-4.75zM195.79 201.20h4.75v12.5h-4.75zM202.06 201.20h4.75v12.5h-4.75zM208.32 201.20h4.75v12.5h-4.75zM214.58 201.20h4.75v12.5h-4.75zM220.85 201.20h4.75v12.5h-4.75zM227.11 201.20h4.75v12.5h-4.75zM239.64 201.20h4.75v12.5h-4.75zM245.90 201.20h4.75v12.5h-4.75zM252.17 201.20h4.75v12.5h-4.75zM258.43 201.20h4.75v12.5h-4.75zM264.70 201.20h4.75v12.5h-4.75zM270.96 201.20h4.75v12.5h-4.75zM277.22 201.20h4.75v12.5h-4.75zM283.49 201.20h4.75v12.5h-4.75zM289.75 201.20h4.75v12.5h-4.75zM296.02 201.20h4.75v12.5h-4.75zM302.28 201.20h4.75v12.5h-4.75zM308.54 201.20h4.75v12.5h-4.75zM314.81 201.20h4.75v12.5h-4.75zM321.07 201.20h4.75v12.5h-4.75zM327.34 201.20h4.75v12.5h-4.75zM333.60 201.20h4.75v12.5h-4.75zM339.86 201.20h4.75v12.5h-4.75zM346.13 201.20h4.75v12.5h-4.75zM352.39 201.20h4.75v12.5h-4.75zM358.66 201.20h4.75v12.5h-4.75zM364.92 201.20h4.75v12.5h-4.75zM371.18 201.20h4.75v12.5h-4.75zM377.45 201.20h4.75v12.5h-4.75zM383.71 201.20h4.75v12.5h-4.75zM389.98 201.20h4.75v12.5h-4.75zM396.24 201.20h4.75v12.5h-4.75zM402.50 201.20h4.75v12.5h-4.75zM408.77 201.20h4.75v12.5h-4.75zM415.03 201.20h4.75v12.5h-4.75zM421.30 201.20h4.75v12.5h-4.75zM427.56 201.20h4.75v12.5h-4.75zM433.82 201.20h4.75v12.5h-4.75zM440.09 201.20h4.75v12.5h-4.75zM446.35 201.20h4.75v12.5h-4.75zM452.62 201.20h4.75v12.5h-4.75zM458.88 201.20h4.75v12.5h-4.75zM465.14 201.20h4.75v12.5h-4.75zM471.41 201.20h4.75v12.5h-4.75zM477.67 201.20h4.75v12.5h-4.75zM483.94 201.20h4.75v12.5h-4.75zM490.20 201.20h4.75v12.5h-4.75zM496.46 201.20h4.75v12.5h-4.75zM502.73 201.20h4.75v12.5h-4.75zM508.99 201.20h4.75v12.5h-4.75zM515.26 201.20h4.75v12.5h-4.75zM521.52 201.20h4.75v12.5h-4.75zM527.78 201.20h4.75v12.5h-4.75zM534.05 201.20h4.75v12.5h-4.75zM540.31 201.20h4.75v12.5h-4.75zM546.58 201.20h4.75v12.5h-4.75zM552.84 201.20h4.75v12.5h-4.75zM559.10 201.20h4.75v12.5h-4.75zM565.37 201.20h4.75v12.5h-4.75zM571.63 201.20h4.75v12.5h-4.75zM577.90 201.20h4.75v12.5h-4.75zM584.16 201.20h4.75v12.5h-4.75zM590.42 201.20h4.75v12.5h-4.75zM596.69 201.20h4.75v12.5h-4.75zM602.95 201.20h4.75v12.5h-4.75zM609.22 201.20h4.75v12.5h-4.75zM615.48 201.20h4.75v12.5h-4.75zM621.74 201.20h4.75v12.5h-4.75zM628.01 201.20h4.75v12.5h-4.75zM634.27 201.20h4.75v12.5h-4.75zM640.54 201.20h4.75v12.5h-4.75zM646.80 201.20h4.75v12.5h-4.75zM653.06 201.20h4.75v12.5h-4.75zM659.33 201.20h4.75v12.5h-4.75z"/>
<path fill="#9cc143" d="M352.39 216.00h4.75v12.5h-4.75z"/>
<path fill="#d1d3d4" d="M177.00 216.00h4.75v12.5h-4.75zM183.26 216.00h4.75v12.5h-4.75zM189.53 216.00h4.75v12.5h-4.75zM195.79 216.00h4.75v12.5h-4.75zM202.06 216.00h4.75v12.5h-4.75zM208.32 216.00h4.75v12.5h-4.75zM214.58 216.00h4.75v12.5h-4.75zM220.85 216.00h4.75v12.5h-4.75zM227.11 216.00h4.75v12.5h-4.75zM233.38 216.00h4.75v12.5h-4.75zM239.64 216.00h4.75v12.5h-4.75zM245.90 216.00h4.75v12.5h-4.75zM252.17 216.00h4.75v12.5h-4.75zM258.43 216.00h4.75v12.5h-4.75zM264.70 216.00h4.75v12.5h-4.75zM270.96 216.00h4.75v12.5h-4.75zM277.22 216.00h4.75v12.5h-4.75zM283.49 216.00h4.75v12.5h-4.75zM289.75 216.00h4.75v12.5h-4.75zM296.02 216.00h4.75v12.5h-4.75zM302.28 216.00h4.75v12.5h-4.75zM308.54 216.00h4.75v12.5h-4.75zM314.81 216.00h4.75v12.5h-4.75zM321.07 216.00h4.75v12.5h-4.75zM327.34 216.00h4.75v12.5h-4.75zM333.60 216.00h4.75v12.5h-4.75zM339.86 216.00h4.75v12.5h-4.75zM346.13 216.00h4.75v12.5h-4.75zM358.66 216.00h4.75v12.5h-4.75zM364.92 216.00h4.75v12.5h-4.75zM371.18 216.00h4.75v12.5h-4.75zM377.45 216.00h4.75v12.5h-4.75zM383.71 216.00h4.75v12.5h-4.75zM389.98 216.00h4.75v12.5h-4.75zM396.24 216.00h4.75v12.5h-4.75zM402.50 216.00h4.75v12.5h-4.75zM408.77 216.00h4.75v12.5h-4.75zM415.03 216.00h4.75v12.5h-4.75zM421.30 216.00h4.75v12.5h-4.75zM427.56 216.00h4.75v12.5h-4.75zM433.82 216.00h4.75v12.5h-4.75zM440.09 216.00h4.75v12.5h-4.75zM446.35 216.00h4.75v12.5h-4.75zM452.62 216.00h4.75v12.5h-4.75zM458.88 216.00h4.75v12.5h-4.75zM465.14 216.00h4.75v12.5h-4.75zM471.41 216.00h4.75v12.5h-4.75zM477.67 216.00h4.75v12.5h-4.75zM483.94 216.00h4.75v12.5h-4.75zM490.20 216.00h4.75v12.5h-4.75zM496.46 216.00h4.75v12.5h-4.75zM502.73 216.00h4.75v12.5h-4.75zM508.99 216.00h4.75v12.5h-4.75zM515.26 216.00h4.75v12.5h-4.75zM521.52 216.00h4.75v12.5h-4.75zM527.78 216.00h4.75v12.5h-4.75zM534.05 216.00h4.75v12.5h-4.75zM540.31 216.00h4.75v12.5h-4.75zM546.58 216.00h4.75v12.5h-4.75zM552.84 216.00h4.75v12.5h-4.75zM559.10 216.00h4.75v12.5h-4.75zM565.37 216.00h4.75v12.5h-4.75zM571.63 216.00h4.75v12.5h-4.75zM577.90 216.00h4.75v12.5h-4.75zM584.16 216.00h4.75v12.5h-4.75zM590.42 216.00h4.75v12.5h-4.75zM596.69 216.00h4.75v12.5h-4.75zM602.95 216.00h4.75v12.5h-4.75zM609.22 216.00h4.75v12.5h-4.75zM615.48 216.00h4.75v12.5h-4.75zM621.74 216.00h4.75v12.5h-4.75zM628.01 216.00h4.75v12.5h-4.75zM634.27 216.00h4.75v12.5h-4.75zM640.54 216.00h4.75v12.5h-4.75zM646.80 216.00h4.75v12.5h-4.75zM653.06 216.00h4.75v12.5h-4.75zM659.33 216.00h4.75v12.5h-4.75z"/>
<path fill="#9cc143" d="M602.95 230.80h4.75v12.5h-4.75z"/>
<path fill="#d1d3d4" d="M177.00 230.80h4.75v12.5h-4.75zM183.26 230.80h4.75v12.5h-4.75zM189.53 230.80h4.75v12.5h-4.75zM195.79 230.80h4.75v12.5h-4.75zM202.06 230.80h4.75v12.5h-4.75zM208.32 230.80h4.75v12.5h-4.75zM214.58 230.80h4.75v12.5h-4.75zM220.85 230.80h4.75v12.5h-4.75zM227.11 230.80h4.75v12.5h-4.75zM233.38 230.80h4.75v12.5h-4.75zM239.64 230.80h4.75v12.5h-4.75zM245.90 230.80h4.75v12.5h-4.75zM252.17 230.80h4.75v12.5h-4.75zM258.43 230.80h4.75v12.5h-4.75zM264.70 230.80h4.75v12.5h-4.75zM270.96 230.80h4.75v12.5h-4.75zM277.22 230.80h4.75v12.5h-4.75zM283.49 230.80h4.75v12.5h-4.75zM289.75 230.80h4.75v12.5h-4.75zM296.02 230.80h4.75v12.5h-4.75zM302.28 230.80h4.75v12.5h-4.75zM308.54 230.80h4.75v12.5h-4.75zM314.81 230.80h4.75v12.5h-4.75zM321.07 230.80h4.75v12.5h-4.75zM327.34 230.80h4.75v12.5h-4.75zM333.60 230.80h4.75v12.5h-4.75zM339.86 230.80h4.75v12.5h-4.75zM346.13 230.80h4.75v12.5h-4.75zM352.39 230.80h4.75v12.5h-4.75zM358.66 230.80h4.75v12.5h-4.75zM364.92 230.80h4.75v12.5h-4.75zM371.18 230.80h4.75v12.5h-4.75zM377.45 230.80h4.75v12.5h-4.75zM383.71 230.80h4.75v12.5h-4.75zM389.98 230.80h4.75v12.5h-4.75zM396.24 230.80h4.75v12.5h-4.75zM402.50 230.80h4.75v12.5h-4.75zM408.77 230.80h4.75v12.5h-4.75zM415.03 230.80h4.75v12.5h-4.75zM421.30 230.80h4.75v12.5h-4.75zM427.56 230.80h4.75v12.5h-4.75zM433.82 230.80h4.75v12.5h-4.75zM440.09 230.80h4.75v12.5h-4.75zM446.35 230.80h4.75v12.5h-4.75zM452.62 230.80h4.75v12.5h-4.75zM458.88 230.80h4.75v12.5h-4.75zM465.14 230.80h4.75v12.5h-4.75zM471.41 230.80h4.75v12.5h-4.75zM477.67 230.80h4.75v12.5h-4.75zM483.94 230.80h4.75v12.5h-4.75zM490.20 230.80h4.75v12.5h-4.75zM496.46 230.80h4.75v12.5h-4.75zM502.73 230.80h4.75v12.5h-4.75zM508.99 230.80h4.75v12.5h-4.75zM515.26 230.80h4.75v12.5h-4.75zM521.52 230.80h4.75v12.5h-4.75zM527.78 230.80h4.75v12.5h-4.75zM534.05 230.80h4.75v12.5h-4.75zM540.31 230.80h4.75v12.5h-4.75zM546.58 230.80h4.75v12.5h-4.75zM552.84 230.80h4.75v12.5h-4.75zM559.10 230.80h4.75v12.5h-4.75zM565.37 230.80h4.75v12.5h-4.75zM571.63 230.80h4.75v12.5h-4.75zM577.90 230.80h4.75v12.5h-4.75zM584.16 230.80h4.75v12.5h-4.75zM590.42 230.80h4.75v12.5h-4.75zM596.69 230.80h4.75v12.5h-4.75zM609.22 230.80h4.75v12.5h-4.75zM615.48 230.80h4.75v12.5h-4.75zM621.74 230.80h4.75v12.5h-4.75zM628.01 230.80h4.75v12.5h-4.75zM634.27 230.80h4.75v12.5h-4.75zM640.54 230.80h4.75v12.5h-4.75zM646.80 230.80h4.75v12.5h-4.75zM653.06 230.80h4.75v12.5h-4.75zM659.33 230.80h4.75v12.5h-4.75z"/>
<path fill="#0a6335" d="M427.56 245.80h4.75v12.5h-4.75zM534.05 245.80h4.75v12.5h-4.75z"/>
<path fill="#d1d3d4" d="M177.00 245.80h4.75v12.5h-4.75zM183.26 245.80h4.75v12.5h-4.75zM189.53 245.80h4.75v12.5h-4.75zM195.79 245.80h4.75v12.5h-4.75zM202.06 245.80h4.75v12.5h-4.75zM208.32 245.80h4.75v12.5h-4.75zM214.58 245.80h4.75v12.5h-4.75zM220.85 245.80h4.75v12.5h-4.75zM227.11 245.80h4.75v12.5h-4.75zM233.38 245.80h4.75v12.5h-4.75zM239.64 245.80h4.75v12.5h-4.75zM245.90 245.80h4.75v12.5h-4.75zM252.17 245.80h4.75v12.5h-4.75zM258.43 245.80h4.75v12.5h-4.75zM264.70 245.80h4.75v12.5h-4.75zM270.96 245.80h4.75v12.5h-4.75zM277.22 245.80h4.75v12.5h-4.75zM283.49 245.80h4.75v12.5h-4.75zM289.75 245.80h4.75v12.5h-4.75zM296.02 245.80h4.75v12.5h-4.75zM302.28 245.80h4.75v12.5h-4.75zM308.54 245.80h4.75v12.5h-4.75zM314.81 245.80h4.75v12.5h-4.75zM321.07 245.80h4.75v12.5h-4.75zM327.34 245.80h4.75v12.5h-4.75zM333.60 245.80h4.75v12.5h-4.75zM339.86 245.80h4.75v12.5h-4.75zM346.13 245.80h4.75v12.5h-4.75zM352.39 245.80h4.75v12.5h-4.75zM358.66 245.80h4.75v12.5h-4.75zM364.92 245.80h4.75v12.5h-4.75zM371.18 245.80h4.75v12.5h-4.75zM377.45 245.80h4.75v12.5h-4.75zM383.71 245.80h4.75v12.5h-4.75zM389.98 245.80h4.75v12.5h-4.75zM396.24 245.80h4.75v12.5h-4.75zM402.50 245.80h4.75v12.5h-4.75zM408.77 245.80h4.75v12.5h-4.75zM415.03 245.80h4.75v12.5h-4.75zM421.30 245.80h4.75v12.5h-4.75zM433.82 245.80h4.75v12.5h-4.75zM440.09 245.80h4.75v12.5h-4.75zM446.35 245.80h4.75v12.5h-4.75zM452.62 245.80h4.75v12.5h-4.75zM458.88 245.80h4.75v12.5h-4.75zM465.14 245.80h4.75v12.5h-4.75zM471.41 245.80h4.75v12.5h-4.75zM477.67 245.80h4.75v12.5h-4.75zM483.94 245.80h4.75v12.5h-4.75zM490.20 245.80h4.75v12.5h-4.75zM496.46 245.80h4.75v12.5h-4.75zM502.73 245.80h4.75v12.5h-4.75zM508.99 245.80h4.75v12.5h-4.75zM515.26 245.80h4.75v12.5h-4.75zM521.52 245.80h4.75v12.5h-4.75zM527.78 245.80h4.75v12.5h-4.75zM540.31 245.80h4.75v12.5h-4.75zM546.58 245.80h4.75v12.5h-4.75zM552.84 245.80h4.75v12.5h-4.75zM559.10 245.80h4.75v12.5h-4.75zM565.37 245.80h4.75v12.5h-4.75zM571.63 245.80h4.75v12.5h-4.75zM577.90 245.80h4.75v12.5h-4.75zM584.16 245.80h4.75v12.5h-4.75zM590.42 245.80h4.75v12.5h-4.75zM596.69 245.80h4.75v12.5h-4.75zM602.95 245.80h4.75v12.5h-4.75zM609.22 245.80h4.75v12.5h-4.75zM615.48 245.80h4.75v12.5h-4.75zM621.74 245.80h4.75v12.5h-4.75zM628.01 245.80h4.75v12.5h-4.75zM634.27 245.80h4.75v12.5h-4.75zM640.54 245.80h4.75v12.5h-4.75zM646.80 245.80h4.75v12.5h-4.75zM653.06 245.80h4.75v12.5h-4.75zM659.33 245.80h4.75v12.5h-4.75z"/>
<path fill="#0a6335" d="M634.27 260.70h4.75v12.5h-4.75z"/>
<path fill="#d1d3d4" d="M177.00 260.70h4.75v12.5h-4.75zM183.26 260.70h4.75v12.5h-4.75zM189.53 260.70h4.75v12.5h-4.75zM195.79 260.70h4.75v12.5h-4.75zM202.06 260.70h4.75v12.5h-4.75zM208.32 260.70h4.75v12.5h-4.75zM214.58 260.70h4.75v12.5h-4.75zM220.85 260.70h4.75v12.5h-4.75zM227.11 260.70h4.75v12.5h-4.75zM233.38 260.70h4.75v12.5h-4.75zM239.64 260.70h4.75v12.5h-4.75zM245.90 260.70h4.75v12.5h-4.75zM252.17 260.70h4.75v12.5h-4.75zM258.43 260.70h4.75v12.5h-4.75zM264.70 260.70h4.75v12.5h-4.75zM270.96 260.70h4.75v12.5h-4.75zM277.22 260.70h4.75v12.5h-4.75zM283.49 260.70h4.75v12.5h-4.75zM289.75 260.70h4.75v12.5h-4.75zM296.02 260.70h4.75v12.5h-4.75zM302.28 260.70h4.75v12.5h-4.75zM308.54 260.70h4.75v12.5h-4.75zM314.81 260.70h4.75v12.5h-4.75zM321.07 260.70h4.75v12.5h-4.75zM327.34 260.70h4.75v12.5h-4.75zM333.60 260.70h4.75v12.5h-4.75zM339.86 260.70h4.75v12.5h-4.75zM346.13 260.70h4.75v12.5h-4.75zM352.39 260.70h4.75v12.5h-4.75zM358.66 260.70h4.75v12.5h-4.75zM364.92 260.70h4.75v12.5h-4.75zM371.18 260.70h4.75v12.5h-4.75zM377.45 260.70h4.75v12.5h-4.75zM383.71 260.70h4.75v12.5h-4.75zM389.98 260.70h4.75v12.5h-4.75zM396.24 260.70h4.75v12.5h-4.75zM402.50 260.70h4.75v12.5h-4.75zM408.77 260.70h4.75v12.5h-4.75zM415.03 260.70h4.75v12.5h-4.75zM421.30 260.70h4.75v12.5h-4.75zM427.56 260.70h4.75v12.5h-4.75zM433.82 260.70h4.75v12.5h-4.75zM440.09 260.70h4.75v12.5h-4.75zM446.35 260.70h4.75v12.5h-4.75zM452.62 260.70h4.75v12.5h-4.75zM458.88 260.70h4.75v12.5h-4.75zM465.14 260.70h4.75v12.5h-4.75zM471.41 260.70h4.75v12.5h-4.75zM477.67 260.70h4.75v12.5h-4.75zM483.94 260.70h4.75v12.5h-4.75zM490.20 260.70h4.75v12.5h-4.75zM496.46 260.70h4.75v12.5h-4.75zM502.73 260.70h4.75v12.5h-4.75zM508.99 260.70h4.75v12.5h-4.75zM515.26 260.70h4.75v12.5h-4.75zM521.52 260.70h4.75v12.5h-4.75zM527.78 260.70h4.75v12.5h-4.75zM534.05 260.70h4.75v12.5h-4.75zM540.31 260.70h4.75v12.5h-4.75zM546.58 260.70h4.75v12.5h-4.75zM552.84 260.70h4.75v12.5h-4.75zM559.10 260.70h4.75v12.5h-4.75zM565.37 260.70h4.75v12.5h-4.75zM571.63 260.70h4.75v12.5h-4.75zM577.90 260.70h4.75v12.5h-4.75zM584.16 260.70h4.75v12.5h-4.75zM590.42 260.70h4.75v12.5h-4.75zM596.69 260.70h4.75v12.5h-4.75zM602.95 260.70h4.75v12.5h-4.75zM609.22 260.70h4.75v12.5h-4.75zM615.48 260.70h4.75v12.5h-4.75zM621.74 260.70h4.75v12.5h-4.75zM628.01 260.70h4.75v12.5h-4.75zM640.54 260.70h4.75v12.5h-4.75zM646.80 260.70h4.75v12.5h-4.75zM653.06 260.70h4.75v12.5h-4.75zM659.33 260.70h4.75v12.5h-4.75z"/>
<path fill="#0a6335" d="M433.82 275.60h4.75v12.5h-4.75z"/>
<path fill="#d1d3d4" d="M177.00 275.60h4.75v12.5h-4.75zM183.26 275.60h4.75v12.5h-4.75zM189.53 275.60h4.75v12.5h-4.75zM195.79 275.60h4.75v12.5h-4.75zM202.06 275.60h4.75v12.5h-4.75zM208.32 275.60h4.75v12.5h-4.75zM214.58 275.60h4.75v12.5h-4.75zM220.85 275.60h4.75v12.5h-4.75zM227.11 275.60h4.75v12.5h-4.75zM233.38 275.60h4.75v12.5h-4.75zM239.64 275.60h4.75v12.5h-4.75zM245.90 275.60h4.75v12.5h-4.75zM252.17 275.60h4.75v12.5h-4.75zM258.43 275.60h4.75v12.5h-4.75zM264.70 275.60h4.75v12.5h-4.75zM270.96 275.60h4.75v12.5h-4.75zM277.22 275.60h4.75v12.5h-4.75zM283.49 275.60h4.75v12.5h-4.75zM289.75 275.60h4.75v12.5h-4.75zM296.02 275.60h4.75v12.5h-4.75zM302.28 275.60h4.75v12.5h-4.75zM308.54 275.60h4.75v12.5h-4.75zM314.81 275.60h4.75v12.5h-4.75zM321.07 275.60h4.75v12.5h-4.75zM327.34 275.60h4.75v12.5h-4.75zM333.60 275.60h4.75v12.5h-4.75zM339.86 275.60h4.75v12.5h-4.75zM346.13 275.60h4.75v12.5h-4.75zM352.39 275.60h4.75v12.5h-4.75zM358.66 275.60h4.75v12.5h-4.75zM364.92 275.60h4.75v12.5h-4.75zM371.18 275.60h4.75v12.5h-4.75zM377.45 275.60h4.75v12.5h-4.75zM383.71 275.60h4.75v12.5h-4.75zM389.98 275.60h4.75v12.5h-4.75zM396.24 275.60h4.75v12.5h-4.75zM402.50 275.60h4.75v12.5h-4.75zM408.77 275.60h4.75v12.5h-4.75zM415.03 275.60h4.75v12.5h-4.75zM421.30 275.60h4.75v12.5h-4.75zM427.56 275.60h4.75v12.5h-4.75zM440.09 275.60h4.75v12.5h-4.75zM446.35 275.60h4.75v12.5h-4.75zM452.62 275.60h4.75v12.5h-4.75zM458.88 275.60h4.75v12.5h-4.75zM465.14 275.60h4.75v12.5h-4.75zM471.41 275.60h4.75v12.5h-4.75zM477.67 275.60h4.75v12.5h-4.75zM483.94 275.60h4.75v12.5h-4.75zM490.20 275.60h4.75v12.5h-4.75zM496.46 275.60h4.75v12.5h-4.75zM502.73 275.60h4.75v12.5h-4.75zM508.99 275.60h4.75v12.5h-4.75zM515.26 275.60h4.75v12.5h-4.75zM521.52 275.60h4.75v12.5h-4.75zM527.78 275.60h4.75v12.5h-4.75zM534.05 275.60h4.75v12.5h-4.75zM540.31 275.60h4.75v12.5h-4.75zM546.58 275.60h4.75v12.5h-4.75zM552.84 275.60h4.75v12.5h-4.75zM559.10 275.60h4.75v12.5h-4.75zM565.37 275.60h4.75v12.5h-4.75zM571.63 275.60h4.75v12.5h-4.75zM577.90 275.60h4.75v12.5h-4.75zM584.16 275.60h4.75v12.5h-4.75zM590.42 275.60h4.75v12.5h-4.75zM596.69 275.60h4.75v12.5h-4.75zM602.95 275.60h4.75v12.5h-4.75zM609.22 275.60h4.75v12.5h-4.75zM615.48 275.60h4.75v12.5h-4.75zM621.74 275.60h4.75v12.5h-4.75zM628.01 275.60h4.75v12.5h-4.75zM634.27 275.60h4.75v12.5h-4.75zM640.54 275.60h4.75v12.5h-4.75zM646.80 275.60h4.75v12.5h-4.75zM653.06 275.60h4.75v12.5h-4.75zM659.33 275.60h4.75v12.5h-4.75z"/>
<path fill="#6c1a4c" d="M208.32 291.40h4.75v12.5h-4.75z"/>
<path fill="#d1d3d4" d="M177.00 291.40h4.75v12.5h-4.75zM183.26 291.40h4.75v12.5h-4.75zM189.53 291.40h4.75v12.5h-4.75zM195.79 291.40h4.75v12.5h-4.75zM202.06 291.40h4.75v12.5h-4.75zM214.58 291.40h4.75v12.5h-4.75zM220.85 291.40h4.75v12.5h-4.75zM227.11 291.40h4.75v12.5h-4.75zM233.38 291.40h4.75v12.5h-4.75zM239.64 291.40h4.75v12.5h-4.75zM245.90 291.40h4.75v12.5h-4.75zM252.17 291.40h4.75v12.5h-4.75zM258.43 291.40h4.75v12.5h-4.75zM264.70 291.40h4.75v12.5h-4.75zM270.96 291.40h4.75v12.5h-4.75zM277.22 291.40h4.75v12.5h-4.75zM283.49 291.40h4.75v12.5h-4.75zM289.75 291.40h4.75v12.5h-4.75zM296.02 291.40h4.75v12.5h-4.75zM302.28 291.40h4.75v12.5h-4.75zM308.54 291.40h4.75v12.5h-4.75zM314.81 291.40h4.75v12.5h-4.75zM321.07 291.40h4.75v12.5h-4.75zM327.34 291.40h4.75v12.5h-4.75zM333.60 291.40h4.75v12.5h-4.75zM339.86 291.40h4.75v12.5h-4.75zM346.13 291.40h4.75v12.5h-4.75zM352.39 291.40h4.75v12.5h-4.75zM358.66 291.40h4.75v12.5h-4.75zM364.92 291.40h4.75v12.5h-4.75zM371.18 291.40h4.75v12.5h-4.75zM377.45 291.40h4.75v12.5h-4.75zM383.71 291.40h4.75v12.5h-4.75zM389.98 291.40h4.75v12.5h-4.75zM396.24 291.40h4.75v12.5h-4.75zM402.50 291.40h4.75v12.5h-4.75zM408.77 291.40h4.75v12.5h-4.75zM415.03 291.40h4.75v12.5h-4.75zM421.30 291.40h4.75v12.5h-4.75zM427.56 291.40h4.75v12.5h-4.75zM433.82 291.40h4.75v12.5h-4.75zM440.09 291.40h4.75v12.5h-4.75zM446.35 291.40h4.75v12.5h-4.75zM452.62 291.40h4.75v12.5h-4.75zM458.88 291.40h4.75v12.5h-4.75zM465.14 291.40h4.75v12.5h-4.75zM471.41 291.40h4.75v12.5h-4.75zM477.67 291.40h4.75v12.5h-4.75zM483.94 291.40h4.75v12.5h-4.75zM490.20 291.40h4.75v12.5h-4.75zM496.46 291.40h4.75v12.5h-4.75zM502.73 291.40h4.75v12.5h-4.75zM508.99 291.40h4.75v12.5h-4.75zM515.26 291.40h4.75v12.5h-4.75zM521.52 291.40h4.75v12.5h-4.75zM527.78 291.40h4.75v12.5h-4.75zM534.05 291.40h4.75v12.5h-4.75zM540.31 291.40h4.75v12.5h-4.75zM546.58 291.40h4.75v12.5h-4.75zM552.84 291.40h4.75v12.5h-4.75zM559.10 291.40h4.75v12.5h-4.75zM565.37 291.40h4.75v12.5h-4.75zM571.63 291.40h4.75v12.5h-4.75zM577.90 291.40h4.75v12.5h-4.75zM584.16 291.40h4.75v12.5h-4.75zM590.42 291.40h4.75v12.5h-4.75zM596.69 291.40h4.75v12.5h-4.75zM602.95 291.40h4.75v12.5h-4.75zM609.22 291.40h4.75v12.5h-4.75zM615.48 291.40h4.75v12.5h-4.75zM621.74 291.40h4.75v12.5h-4.75zM628.01 291.40h4.75v12.5h-4.75zM634.27 291.40h4.75v12.5h-4.75zM640.54 291.40h4.75v12.5h-4.75zM646.80 291.40h4.75v12.5h-4.75zM653.06 291.40h4.75v12.5h-4.75zM659.33 291.40h4.75v12.5h-4.75z"/>
<path fill="#6c1a4c" d="M421.30 306.20h4.75v12.5h-4.75z"/>
<path fill="#d1d3d4" d="M177.00 306.20h4.75v12.5h-4.75zM183.26 306.20h4.75v12.5h-4.75zM189.53 306.20h4.75v12.5h-4.75zM195.79 306.20h4.75v12.5h-4.75zM202.06 306.20h4.75v12.5h-4.75zM208.32 306.20h4.75v12.5h-4.75zM214.58 306.20h4.75v12.5h-4.75zM220.85 306.20h4.75v12.5h-4.75zM227.11 306.20h4.75v12.5h-4.75zM233.38 306.20h4.75v12.5h-4.75zM239.64 306.20h4.75v12.5h-4.75zM245.90 306.20h4.75v12.5h-4.75zM252.17 306.20h4.75v12.5h-4.75zM258.43 306.20h4.75v12.5h-4.75zM264.70 306.20h4.75v12.5h-4.75zM270.96 306.20h4.75v12.5h-4.75zM277.22 306.20h4.75v12.5h-4.75zM283.49 306.20h4.75v12.5h-4.75zM289.75 306.20h4.75v12.5h-4.75zM296.02 306.20h4.75v12.5h-4.75zM302.28 306.20h4.75v12.5h-4.75zM308.54 306.20h4.75v12.5h-4.75zM314.81 306.20h4.75v12.5h-4.75zM321.07 306.20h4.75v12.5h-4.75zM327.34 306.20h4.75v12.5h-4.75zM333.60 306.20h4.75v12.5h-4.75zM339.86 306.20h4.75v12.5h-4.75zM346.13 306.20h4.75v12.5h-4.75zM352.39 306.20h4.75v12.5h-4.75zM358.66 306.20h4.75v12.5h-4.75zM364.92 306.20h4.75v12.5h-4.75zM371.18 306.20h4.75v12.5h-4.75zM377.45 306.20h4.75v12.5h-4.75zM383.71 306.20h4.75v12.5h-4.75zM389.98 306.20h4.75v12.5h-4.75zM396.24 306.20h4.75v12.5h-4.75zM402.50 306.20h4.75v12.5h-4.75zM408.77 306.20h4.75v12.5h-4.75zM415.03 306.20h4.75v12.5h-4.75zM427.56 306.20h4.75v12.5h-4.75zM433.82 306.20h4.75v12.5h-4.75zM440.09 306.20h4.75v12.5h-4.75zM446.35 306.20h4.75v12.5h-4.75zM452.62 306.20h4.75v12.5h-4.75zM458.88 306.20h4.75v12.5h-4.75zM465.14 306.20h4.75v12.5h-4.75zM471.41 306.20h4.75v12.5h-4.75zM477.67 306.20h4.75v12.5h-4.75zM483.94 306.20h4.75v12.5h-4.75zM490.20 306.20h4.75v12.5h-4.75zM496.46 306.20h4.75v12.5h-4.75zM502.73 306.20h4.75v12.5h-4.75zM508.99 306.20h4.75v12.5h-4.75zM515.26 306.20h4.75v12.5h-4.75zM521.52 306.20h4.75v12.5h-4.75zM527.78 306.20h4.75v12.5h-4.75zM534.05 306.20h4.75v12.5h-4.75zM540.31 306.20h4.75v12.5h-4.75zM546.58 306.20h4.75v12.5h-4.75zM552.84 306.20h4.75v12.5h-4.75zM559.10 306.20h4.75v12.5h-4.75zM565.37 306.20h4.75v12.5h-4.75zM571.63 306.20h4.75v12.5h-4.75zM577.90 306.20h4.75v12.5h-4.75zM584.16 306.20h4.75v12.5h-4.75zM590.42 306.20h4.75v12.5h-4.75zM596.69 306.20h4.75v12.5h-4.75zM602.95 306.20h4.75v12.5h-4.75zM609.22 306.20h4.75v12.5h-4.75zM615.48 306.20h4.75v12.5h-4.75zM621.74 306.20h4.75v12.5h-4.75zM628.01 306.20h4.75v12.5h-4.75zM634.27 306.20h4.75v12.5h-4.75zM640.54 306.20h4.75v12.5h-4.75zM646.80 306.20h4.75v12.5h-4.75zM653.06 306.20h4.75v12.5h-4.75zM659.33 306.20h4.75v12.5h-4.75z"/>
<path fill="#6c1a4c" d="M208.32 321.10h4.75v12.5h-4.75zM214.58 321.10h4.75v12.5h-4.75zM358.66 321.10h4.75v12.5h-4.75zM515.26 321.10h4.75v12.5h-4.75zM559.10 321.10h4.75v12.5h-4.75z"/>
<path fill="#d1d3d4" d="M177.00 321.10h4.75v12.5h-4.75zM183.26 321.10h4.75v12.5h-4.75zM189.53 321.10h4.75v12.5h-4.75zM195.79 321.10h4.75v12.5h-4.75zM202.06 321.10h4.75v12.5h-4.75zM220.85 321.10h4.75v12.5h-4.75zM227.11 321.10h4.75v12.5h-4.75zM233.38 321.10h4.75v12.5h-4.75zM239.64 321.10h4.75v12.5h-4.75zM245.90 321.10h4.75v12.5h-4.75zM252.17 321.10h4.75v12.5h-4.75zM258.43 321.10h4.75v12.5h-4.75zM264.70 321.10h4.75v12.5h-4.75zM270.96 321.10h4.75v12.5h-4.75zM277.22 321.10h4.75v12.5h-4.75zM283.49 321.10h4.75v12.5h-4.75zM289.75 321.10h4.75v12.5h-4.75zM296.02 321.10h4.75v12.5h-4.75zM302.28 321.10h4.75v12.5h-4.75zM308.54 321.10h4.75v12.5h-4.75zM314.81 321.10h4.75v12.5h-4.75zM321.07 321.10h4.75v12.5h-4.75zM327.34 321.10h4.75v12.5h-4.75zM333.60 321.10h4.75v12.5h-4.75zM339.86 321.10h4.75v12.5h-4.75zM346.13 321.10h4.75v12.5h-4.75zM352.39 321.10h4.75v12.5h-4.75zM364.92 321.10h4.75v12.5h-4.75zM371.18 321.10h4.75v12.5h-4.75zM377.45 321.10h4.75v12.5h-4.75zM383.71 321.10h4.75v12.5h-4.75zM389.98 321.10h4.75v12.5h-4.75zM396.24 321.10h4.75v12.5h-4.75zM402.50 321.10h4.75v12.5h-4.75zM408.77 321.10h4.75v12.5h-4.75zM415.03 321.10h4.75v12.5h-4.75zM421.30 321.10h4.75v12.5h-4.75zM427.56 321.10h4.75v12.5h-4.75zM433.82 321.10h4.75v12.5h-4.75zM440.09 321.10h4.75v12.5h-4.75zM446.35 321.10h4.75v12.5h-4.75zM452.62 321.10h4.75v12.5h-4.75zM458.88 321.10h4.75v12.5h-4.75zM465.14 321.10h4.75v12.5h-4.75zM471.41 321.10h4.75v12.5h-4.75zM477.67 321.10h4.75v12.5h-4.75zM483.94 321.10h4.75v12.5h-4.75zM490.20 321.10h4.75v12.5h-4.75zM496.46 321.10h4.75v12.5h-4.75zM502.73 321.10h4.75v12.5h-4.75zM508.99 321.10h4.75v12.5h-4.75zM521.52 321.10h4.75v12.5h-4.75zM527.78 321.10h4.75v12.5h-4.75zM534.05 321.10h4.75v12.5h-4.75zM540.31 321.10h4.75v12.5h-4.75zM546.58 321.10h4.75v12.5h-4.75zM552.84 321.10h4.75v12.5h-4.75zM565.37 321.10h4.75v12.5h-4.75zM571.63 321.10h4.75v12.5h-4.75zM577.90 321.10h4.75v12.5h-4.75zM584.16 321.10h4.75v12.5h-4.75zM590.42 321.10h4.75v12.5h-4.75zM596.69 321.10h4.75v12.5h-4.75zM602.95 321.10h4.75v12.5h-4.75zM609.22 321.10h4.75v12.5h-4.75zM615.48 321.10h4.75v12.5h-4.75zM621.74 321.10h4.75v12.5h-4.75zM628.01 321.10h4.75v12.5h-4.75zM634.27 321.10h4.75v12.5h-4.75zM640.54 321.10h4.75v12.5h-4.75zM646.80 321.10h4.75v12.5h-4.75zM653.06 321.10h4.75v12.5h-4.75zM659.33 321.10h4.75v12.5h-4.75z"/>
<path fill="#6c1a4c" d="M208.32 335.80h4.75v12.5h-4.75zM214.58 335.80h4.75v12.5h-4.75zM220.85 335.80h4.75v12.5h-4.75zM427.56 335.80h4.75v12.5h-4.75zM515.26 335.80h4.75v12.5h-4.75z"/>
<path fill="#d1d3d4" d="M177.00 335.80h4.75v12.5h-4.75zM183.26 335.80h4.75v12.5h-4.75zM189.53 335.80h4.75v12.5h-4.75zM195.79 335.80h4.75v12.5h-4.75zM202.06 335.80h4.75v12.5h-4.75zM227.11 335.80h4.75v12.5h-4.75zM233.38 335.80h4.75v12.5h-4.75zM239.64 335.80h4.75v12.5h-4.75zM245.90 335.80h4.75v12.5h-4.75zM252.17 335.80h4.75v12.5h-4.75zM258.43 335.80h4.75v12.5h-4.75zM264.70 335.80h4.75v12.5h-4.75zM270.96 335.80h4.75v12.5h-4.75zM277.22 335.80h4.75v12.5h-4.75zM283.49 335.80h4.75v12.5h-4.75zM289.75 335.80h4.75v12.5h-4.75zM296.02 335.80h4.75v12.5h-4.75zM302.28 335.80h4.75v12.5h-4.75zM308.54 335.80h4.75v12.5h-4.75zM314.81 335.80h4.75v12.5h-4.75zM321.07 335.80h4.75v12.5h-4.75zM327.34 335.80h4.75v12.5h-4.75zM333.60 335.80h4.75v12.5h-4.75zM339.86 335.80h4.75v12.5h-4.75zM346.13 335.80h4.75v12.5h-4.75zM352.39 335.80h4.75v12.5h-4.75zM358.66 335.80h4.75v12.5h-4.75zM364.92 335.80h4.75v12.5h-4.75zM371.18 335.80h4.75v12.5h-4.75zM377.45 335.80h4.75v12.5h-4.75zM383.71 335.80h4.75v12.5h-4.75zM389.98 335.80h4.75v12.5h-4.75zM396.24 335.80h4.75v12.5h-4.75zM402.50 335.80h4.75v12.5h-4.75zM408.77 335.80h4.75v12.5h-4.75zM415.03 335.80h4.75v12.5h-4.75zM421.30 335.80h4.75v12.5h-4.75zM433.82 335.80h4.75v12.5h-4.75zM440.09 335.80h4.75v12.5h-4.75zM446.35 335.80h4.75v12.5h-4.75zM452.62 335.80h4.75v12.5h-4.75zM458.88 335.80h4.75v12.5h-4.75zM465.14 335.80h4.75v12.5h-4.75zM471.41 335.80h4.75v12.5h-4.75zM477.67 335.80h4.75v12.5h-4.75zM483.94 335.80h4.75v12.5h-4.75zM490.20 335.80h4.75v12.5h-4.75zM496.46 335.80h4.75v12.5h-4.75zM502.73 335.80h4.75v12.5h-4.75zM508.99 335.80h4.75v12.5h-4.75zM521.52 335.80h4.75v12.5h-4.75zM527.78 335.80h4.75v12.5h-4.75zM534.05 335.80h4.75v12.5h-4.75zM540.31 335.80h4.75v12.5h-4.75zM546.58 335.80h4.75v12.5h-4.75zM552.84 335.80h4.75v12.5h-4.75zM559.10 335.80h4.75v12.5h-4.75zM565.37 335.80h4.75v12.5h-4.75zM571.63 335.80h4.75v12.5h-4.75zM577.90 335.80h4.75v12.5h-4.75zM584.16 335.80h4.75v12.5h-4.75zM590.42 335.80h4.75v12.5h-4.75zM596.69 335.80h4.75v12.5h-4.75zM602.95 335.80h4.75v12.5h-4.75zM609.22 335.80h4.75v12.5h-4.75zM615.48 335.80h4.75v12.5h-4.75zM621.74 335.80h4.75v12.5h-4.75zM628.01 335.80h4.75v12.5h-4.75zM634.27 335.80h4.75v12.5h-4.75zM640.54 335.80h4.75v12.5h-4.75zM646.80 335.80h4.75v12.5h-4.75zM653.06 335.80h4.75v12.5h-4.75zM659.33 335.80h4.75v12.5h-4.75z"/>
<path fill="#6c1a4c" d="M227.11 350.50h4.75v12.5h-4.75z"/>
<path fill="#d1d3d4" d="M177.00 350.50h4.75v12.5h-4.75zM183.26 350.50h4.75v12.5h-4.75zM189.53 350.50h4.75v12.5h-4.75zM195.79 350.50h4.75v12.5h-4.75zM202.06 350.50h4.75v12.5h-4.75zM208.32 350.50h4.75v12.5h-4.75zM214.58 350.50h4.75v12.5h-4.75zM220.85 350.50h4.75v12.5h-4.75zM233.38 350.50h4.75v12.5h-4.75zM239.64 350.50h4.75v12.5h-4.75zM245.90 350.50h4.75v12.5h-4.75zM252.17 350.50h4.75v12.5h-4.75zM258.43 350.50h4.75v12.5h-4.75zM264.70 350.50h4.75v12.5h-4.75zM270.96 350.50h4.75v12.5h-4.75zM277.22 350.50h4.75v12.5h-4.75zM283.49 350.50h4.75v12.5h-4.75zM289.75 350.50h4.75v12.5h-4.75zM296.02 350.50h4.75v12.5h-4.75zM302.28 350.50h4.75v12.5h-4.75zM308.54 350.50h4.75v12.5h-4.75zM314.81 350.50h4.75v12.5h-4.75zM321.07 350.50h4.75v12.5h-4.75zM327.34 350.50h4.75v12.5h-4.75zM333.60 350.50h4.75v12.5h-4.75zM339.86 350.50h4.75v12.5h-4.75zM346.13 350.50h4.75v12.5h-4.75zM352.39 350.50h4.75v12.5h-4.75zM358.66 350.50h4.75v12.5h-4.75zM364.92 350.50h4.75v12.5h-4.75zM371.18 350.50h4.75v12.5h-4.75zM377.45 350.50h4.75v12.5h-4.75zM383.71 350.50h4.75v12.5h-4.75zM389.98 350.50h4.75v12.5h-4.75zM396.24 350.50h4.75v12.5h-4.75zM402.50 350.50h4.75v12.5h-4.75zM408.77 350.50h4.75v12.5h-4.75zM415.03 350.50h4.75v12.5h-4.75zM421.30 350.50h4.75v12.5h-4.75zM427.56 350.50h4.75v12.5h-4.75zM433.82 350.50h4.75v12.5h-4.75zM440.09 350.50h4.75v12.5h-4.75zM446.35 350.50h4.75v12.5h-4.75zM452.62 350.50h4.75v12.5h-4.75zM458.88 350.50h4.75v12.5h-4.75zM465.14 350.50h4.75v12.5h-4.75zM471.41 350.50h4.75v12.5h-4.75zM477.67 350.50h4.75v12.5h-4.75zM483.94 350.50h4.75v12.5h-4.75zM490.20 350.50h4.75v12.5h-4.75zM496.46 350.50h4.75v12.5h-4.75zM502.73 350.50h4.75v12.5h-4.75zM508.99 350.50h4.75v12.5h-4.75zM515.26 350.50h4.75v12.5h-4.75zM521.52 350.50h4.75v12.5h-4.75zM527.78 350.50h4.75v12.5h-4.75zM534.05 350.50h4.75v12.5h-4.75zM540.31 350.50h4.75v12.5h-4.75zM546.58 350.50h4.75v12.5h-4.75zM552.84 350.50h4.75v12.5h-4.75zM559.10 350.50h4.75v12.5h-4.75zM565.37 350.50h4.75v12.5h-4.75zM571.63 350.50h4.75v12.5h-4.75zM577.90 350.50h4.75v12.5h-4.75zM584.16 350.50h4.75v12.5h-4.75zM590.42 350.50h4.75v12.5h-4.75zM596.69 350.50h4.75v12.5h-4.75zM602.95 350.50h4.75v12.5h-4.75zM609.22 350.50h4.75v12.5h-4.75zM615.48 350.50h4.75v12.5h-4.75zM621.74 350.50h4.75v12.5h-4.75zM628.01 350.50h4.75v12.5h-4.75zM634.27 350.50h4.75v12.5h-4.75zM640.54 350.50h4.75v12.5h-4.75zM646.80 350.50h4.75v12.5h-4.75zM653.06 350.50h4.75v12.5h-4.75zM659.33 350.50h4.75v12.5h-4.75z"/>
<rect x="0" y="20.35" width="685" height="1.65" fill="#222226"/>
<rect x="0" y="50.8" width="685" height="1.45" fill="#222226"/>
<rect x="0" y="66.0" width="685" height="1.25" fill="#222226"/>
<rect x="0" y="139.85" width="685" height="1.3" fill="#222226"/>
<rect x="0" y="184.7" width="685" height="1.35" fill="#222226"/>
<rect x="0" y="243.95" width="685" height="1.75" fill="#222226"/>
<rect x="0" y="289.4" width="685" height="1.6" fill="#222226"/>
<rect x="0" y="363.5" width="685" height="1.5" fill="#222226"/>
<text x="174" y="31.50" font-size="8.25" text-anchor="end">Sensitizing</text>
<text x="667.5" y="31.50" font-size="8.25">97%</text>
<text x="174" y="47.10" font-size="8.25" text-anchor="end">T790M</text>
<text x="667.5" y="47.10" font-size="8.25">87%</text>
<text x="174" y="61.70" font-size="8.25" text-anchor="end">T790M loss</text>
<text x="667.5" y="61.70" font-size="8.25">50%</text>
<text x="174" y="77.40" font-size="8.25" text-anchor="end">C797X<tspan font-size="6.5" dy="-1.3">*</tspan></text>
<text x="667.5" y="77.40" font-size="8.25">18%</text>
<text x="174" y="92.10" font-size="8.25" text-anchor="end">L792X<tspan font-size="5.5" dy="-1.6">†</tspan></text>
<text x="667.5" y="92.10" font-size="8.25">3%</text>
<text x="174" y="106.20" font-size="8.25" text-anchor="end">G796S</text>
<text x="667.5" y="106.20" font-size="8.25">1%</text>
<text x="174" y="120.90" font-size="8.25" text-anchor="end">L718Q</text>
<text x="667.5" y="120.90" font-size="8.25">1%</text>
<text x="174" y="135.70" font-size="8.25" text-anchor="end">Ex20ins</text>
<text x="667.5" y="135.70" font-size="8.25">1%</text>
<text x="174" y="151.00" font-size="8.25" text-anchor="end"><tspan font-style="italic">MET</tspan> amp</text>
<text x="667.5" y="151.00" font-size="8.25">18%</text>
<text x="174" y="165.60" font-size="8.25" text-anchor="end"><tspan font-style="italic">HER2</tspan> amp</text>
<text x="667.5" y="165.60" font-size="8.25">5%</text>
<text x="174" y="180.30" font-size="8.25" text-anchor="end"><tspan font-style="italic">PIK3CA</tspan> amp</text>
<text x="667.5" y="180.30" font-size="8.25">4%</text>
<text x="174" y="195.50" font-size="8.25" text-anchor="end"><tspan font-style="italic">FGFR3-TACC3</tspan></text>
<text x="667.5" y="195.50" font-size="8.25">1%</text>
<text x="174" y="210.40" font-size="8.25" text-anchor="end"><tspan font-style="italic">NTRK1-TPM3</tspan></text>
<text x="667.5" y="210.40" font-size="8.25">1%</text>
<text x="174" y="225.20" font-size="8.25" text-anchor="end"><tspan font-style="italic">RET-ERC1</tspan></text>
<text x="667.5" y="225.20" font-size="8.25">1%</text>
<text x="174" y="240.00" font-size="8.25" text-anchor="end"><tspan font-style="italic">RET-CCDC6</tspan></text>
<text x="667.5" y="240.00" font-size="8.25">1%</text>
<text x="174" y="255.00" font-size="8.25" text-anchor="end"><tspan font-style="italic">BRAF V600E</tspan></text>
<text x="667.5" y="255.00" font-size="8.25">3%</text>
<text x="174" y="269.90" font-size="8.25" text-anchor="end"><tspan font-style="italic">PIK3CA E545K</tspan></text>
<text x="667.5" y="269.90" font-size="8.25">1%</text>
<text x="174" y="284.80" font-size="8.25" text-anchor="end"><tspan font-style="italic">KRAS G12D</tspan></text>
<text x="667.5" y="284.80" font-size="8.25">1%</text>
<text x="174" y="300.60" font-size="8.25" text-anchor="end"><tspan font-style="italic">CCND1</tspan> amp</text>
<text x="667.5" y="300.60" font-size="8.25">1%</text>
<text x="174" y="315.40" font-size="8.25" text-anchor="end"><tspan font-style="italic">CCND2</tspan> amp</text>
<text x="667.5" y="315.40" font-size="8.25">1%</text>
<text x="174" y="330.30" font-size="8.25" text-anchor="end"><tspan font-style="italic">CCNE1</tspan> amp</text>
<text x="667.5" y="330.30" font-size="8.25">6%</text>
<text x="174" y="345.00" font-size="8.25" text-anchor="end"><tspan font-style="italic">CDK6</tspan> amp</text>
<text x="667.5" y="345.00" font-size="8.25">6%</text>
<text x="174" y="359.70" font-size="8.25" text-anchor="end"><tspan font-style="italic">CDKN2A</tspan> E27fs</text>
<text x="667.5" y="359.70" font-size="8.25">1%</text>
<text x="107" y="38.70" font-size="8.25" font-weight="bold" text-anchor="end">Baseline plasma mutations</text>
<text x="107" y="106.50" font-size="8.25" font-weight="bold" text-anchor="end">Acquired <tspan font-style="italic">EGFR</tspan> mutations</text>
<text x="107" y="165.20" font-size="8.25" font-weight="bold" text-anchor="end">Acquired amplifications</text>
<text x="107" y="216.00" font-size="8.25" font-weight="bold" text-anchor="end" textLength="102.8" lengthAdjust="spacingAndGlyphs">Acquired oncogenic fusions</text>
<text x="107" y="264.50" font-size="8.25" font-weight="bold" text-anchor="end">Acquired MAPK/PI3K</text>
<text x="107" y="274.60" font-size="8.25" font-weight="bold" text-anchor="end">alterations</text>
<text x="104.8" y="323.60" font-size="8.25" font-weight="bold" text-anchor="end">Acquired cell cycle</text>
<text x="107" y="333.30" font-size="8.25" font-weight="bold" text-anchor="end">gene alterations</text>
<text x="0.3" y="5" font-size="9.5" font-weight="bold">a</text>
<rect x="102" y="9.5" width="2.3" height="6.9" fill="#f9d96f"/>
<text x="108.2" y="15.6" font-size="8.25">Ex19del</text>
<rect x="146.9" y="9.5" width="2.3" height="6.9" fill="#000000"/>
<text x="152.6" y="15.6" font-size="8.25">L858R</text>
<path fill="#000000" d="M212.52 410.00h4.75v12.5h-4.75zM218.78 410.00h4.75v12.5h-4.75zM275.12 410.00h4.75v12.5h-4.75zM281.38 410.00h4.75v12.5h-4.75zM287.64 410.00h4.75v12.5h-4.75zM293.90 410.00h4.75v12.5h-4.75zM300.16 410.00h4.75v12.5h-4.75zM306.42 410.00h4.75v12.5h-4.75zM312.68 410.00h4.75v12.5h-4.75zM318.94 410.00h4.75v12.5h-4.75zM325.20 410.00h4.75v12.5h-4.75z"/>
<path fill="#f9d96f" d="M200.00 410.00h4.75v12.5h-4.75zM206.26 410.00h4.75v12.5h-4.75zM225.04 410.00h4.75v12.5h-4.75zM231.30 410.00h4.75v12.5h-4.75zM237.56 410.00h4.75v12.5h-4.75zM243.82 410.00h4.75v12.5h-4.75zM250.08 410.00h4.75v12.5h-4.75zM256.34 410.00h4.75v12.5h-4.75zM262.60 410.00h4.75v12.5h-4.75zM268.86 410.00h4.75v12.5h-4.75zM331.46 410.00h4.75v12.5h-4.75zM337.72 410.00h4.75v12.5h-4.75zM343.98 410.00h4.75v12.5h-4.75zM350.24 410.00h4.75v12.5h-4.75z"/>
<path fill="#ec8cb9" d="M200.00 425.00h4.75v12.5h-4.75zM206.26 425.00h4.75v12.5h-4.75zM212.52 425.00h4.75v12.5h-4.75zM218.78 425.00h4.75v12.5h-4.75zM225.04 425.00h4.75v12.5h-4.75zM231.30 425.00h4.75v12.5h-4.75zM237.56 425.00h4.75v12.5h-4.75zM243.82 425.00h4.75v12.5h-4.75zM250.08 425.00h4.75v12.5h-4.75zM256.34 425.00h4.75v12.5h-4.75zM262.60 425.00h4.75v12.5h-4.75zM268.86 425.00h4.75v12.5h-4.75zM275.12 425.00h4.75v12.5h-4.75zM281.38 425.00h4.75v12.5h-4.75zM287.64 425.00h4.75v12.5h-4.75zM293.90 425.00h4.75v12.5h-4.75zM300.16 425.00h4.75v12.5h-4.75zM306.42 425.00h4.75v12.5h-4.75zM312.68 425.00h4.75v12.5h-4.75zM318.94 425.00h4.75v12.5h-4.75z"/>
<path fill="#d1d3d4" d="M325.20 425.00h4.75v12.5h-4.75zM331.46 425.00h4.75v12.5h-4.75zM337.72 425.00h4.75v12.5h-4.75zM343.98 425.00h4.75v12.5h-4.75zM350.24 425.00h4.75v12.5h-4.75z"/>
<path fill="#d7de24" d="M200.00 440.20h4.75v12.5h-4.75zM206.26 440.20h4.75v12.5h-4.75zM212.52 440.20h4.75v12.5h-4.75zM218.78 440.20h4.75v12.5h-4.75z"/>
<path fill="#d1d3d4" d="M225.04 440.20h4.75v12.5h-4.75zM231.30 440.20h4.75v12.5h-4.75zM237.56 440.20h4.75v12.5h-4.75zM243.82 440.20h4.75v12.5h-4.75zM250.08 440.20h4.75v12.5h-4.75zM256.34 440.20h4.75v12.5h-4.75zM262.60 440.20h4.75v12.5h-4.75zM268.86 440.20h4.75v12.5h-4.75zM275.12 440.20h4.75v12.5h-4.75zM281.38 440.20h4.75v12.5h-4.75zM287.64 440.20h4.75v12.5h-4.75zM293.90 440.20h4.75v12.5h-4.75zM300.16 440.20h4.75v12.5h-4.75zM306.42 440.20h4.75v12.5h-4.75zM312.68 440.20h4.75v12.5h-4.75zM318.94 440.20h4.75v12.5h-4.75zM325.20 440.20h4.75v12.5h-4.75zM331.46 440.20h4.75v12.5h-4.75zM337.72 440.20h4.75v12.5h-4.75zM343.98 440.20h4.75v12.5h-4.75zM350.24 440.20h4.75v12.5h-4.75z"/>
<path fill="#d1d3d4" d="M200.00 455.30h4.75v12.5h-4.75zM206.26 455.30h4.75v12.5h-4.75zM212.52 455.30h4.75v12.5h-4.75zM218.78 455.30h4.75v12.5h-4.75zM225.04 455.30h4.75v12.5h-4.75zM231.30 455.30h4.75v12.5h-4.75zM237.56 455.30h4.75v12.5h-4.75zM243.82 455.30h4.75v12.5h-4.75zM250.08 455.30h4.75v12.5h-4.75zM256.34 455.30h4.75v12.5h-4.75zM262.60 455.30h4.75v12.5h-4.75zM268.86 455.30h4.75v12.5h-4.75zM275.12 455.30h4.75v12.5h-4.75zM281.38 455.30h4.75v12.5h-4.75zM287.64 455.30h4.75v12.5h-4.75zM293.90 455.30h4.75v12.5h-4.75zM300.16 455.30h4.75v12.5h-4.75zM306.42 455.30h4.75v12.5h-4.75zM312.68 455.30h4.75v12.5h-4.75zM318.94 455.30h4.75v12.5h-4.75zM325.20 455.30h4.75v12.5h-4.75zM331.46 455.30h4.75v12.5h-4.75zM337.72 455.30h4.75v12.5h-4.75zM343.98 455.30h4.75v12.5h-4.75zM350.24 455.30h4.75v12.5h-4.75z"/>
<path fill="#d1d3d4" d="M200.00 470.60h4.75v12.5h-4.75zM206.26 470.60h4.75v12.5h-4.75zM212.52 470.60h4.75v12.5h-4.75zM218.78 470.60h4.75v12.5h-4.75zM225.04 470.60h4.75v12.5h-4.75zM231.30 470.60h4.75v12.5h-4.75zM237.56 470.60h4.75v12.5h-4.75zM243.82 470.60h4.75v12.5h-4.75zM250.08 470.60h4.75v12.5h-4.75zM256.34 470.60h4.75v12.5h-4.75zM262.60 470.60h4.75v12.5h-4.75zM268.86 470.60h4.75v12.5h-4.75zM275.12 470.60h4.75v12.5h-4.75zM281.38 470.60h4.75v12.5h-4.75zM287.64 470.60h4.75v12.5h-4.75zM293.90 470.60h4.75v12.5h-4.75zM300.16 470.60h4.75v12.5h-4.75zM306.42 470.60h4.75v12.5h-4.75zM312.68 470.60h4.75v12.5h-4.75zM318.94 470.60h4.75v12.5h-4.75zM325.20 470.60h4.75v12.5h-4.75zM331.46 470.60h4.75v12.5h-4.75zM337.72 470.60h4.75v12.5h-4.75zM343.98 470.60h4.75v12.5h-4.75zM350.24 470.60h4.75v12.5h-4.75z"/>
<path fill="#d1d3d4" d="M200.00 485.80h4.75v12.5h-4.75zM206.26 485.80h4.75v12.5h-4.75zM212.52 485.80h4.75v12.5h-4.75zM218.78 485.80h4.75v12.5h-4.75zM225.04 485.80h4.75v12.5h-4.75zM231.30 485.80h4.75v12.5h-4.75zM237.56 485.80h4.75v12.5h-4.75zM243.82 485.80h4.75v12.5h-4.75zM250.08 485.80h4.75v12.5h-4.75zM256.34 485.80h4.75v12.5h-4.75zM262.60 485.80h4.75v12.5h-4.75zM268.86 485.80h4.75v12.5h-4.75zM275.12 485.80h4.75v12.5h-4.75zM281.38 485.80h4.75v12.5h-4.75zM287.64 485.80h4.75v12.5h-4.75zM293.90 485.80h4.75v12.5h-4.75zM300.16 485.80h4.75v12.5h-4.75zM306.42 485.80h4.75v12.5h-4.75zM312.68 485.80h4.75v12.5h-4.75zM318.94 485.80h4.75v12.5h-4.75zM325.20 485.80h4.75v12.5h-4.75zM331.46 485.80h4.75v12.5h-4.75zM337.72 485.80h4.75v12.5h-4.75zM343.98 485.80h4.75v12.5h-4.75zM350.24 485.80h4.75v12.5h-4.75z"/>
<path fill="#d1d3d4" d="M200.00 501.10h4.75v12.5h-4.75zM206.26 501.10h4.75v12.5h-4.75zM212.52 501.10h4.75v12.5h-4.75zM218.78 501.10h4.75v12.5h-4.75zM225.04 501.10h4.75v12.5h-4.75zM231.30 501.10h4.75v12.5h-4.75zM237.56 501.10h4.75v12.5h-4.75zM243.82 501.10h4.75v12.5h-4.75zM250.08 501.10h4.75v12.5h-4.75zM256.34 501.10h4.75v12.5h-4.75zM262.60 501.10h4.75v12.5h-4.75zM268.86 501.10h4.75v12.5h-4.75zM275.12 501.10h4.75v12.5h-4.75zM281.38 501.10h4.75v12.5h-4.75zM287.64 501.10h4.75v12.5h-4.75zM293.90 501.10h4.75v12.5h-4.75zM300.16 501.10h4.75v12.5h-4.75zM306.42 501.10h4.75v12.5h-4.75zM312.68 501.10h4.75v12.5h-4.75zM318.94 501.10h4.75v12.5h-4.75zM325.20 501.10h4.75v12.5h-4.75zM331.46 501.10h4.75v12.5h-4.75zM337.72 501.10h4.75v12.5h-4.75zM343.98 501.10h4.75v12.5h-4.75zM350.24 501.10h4.75v12.5h-4.75z"/>
<path fill="#d1d3d4" d="M200.00 516.40h4.75v12.5h-4.75zM206.26 516.40h4.75v12.5h-4.75zM212.52 516.40h4.75v12.5h-4.75zM218.78 516.40h4.75v12.5h-4.75zM225.04 516.40h4.75v12.5h-4.75zM231.30 516.40h4.75v12.5h-4.75zM237.56 516.40h4.75v12.5h-4.75zM243.82 516.40h4.75v12.5h-4.75zM250.08 516.40h4.75v12.5h-4.75zM256.34 516.40h4.75v12.5h-4.75zM262.60 516.40h4.75v12.5h-4.75zM268.86 516.40h4.75v12.5h-4.75zM275.12 516.40h4.75v12.5h-4.75zM281.38 516.40h4.75v12.5h-4.75zM287.64 516.40h4.75v12.5h-4.75zM293.90 516.40h4.75v12.5h-4.75zM300.16 516.40h4.75v12.5h-4.75zM306.42 516.40h4.75v12.5h-4.75zM312.68 516.40h4.75v12.5h-4.75zM318.94 516.40h4.75v12.5h-4.75zM325.20 516.40h4.75v12.5h-4.75zM331.46 516.40h4.75v12.5h-4.75zM337.72 516.40h4.75v12.5h-4.75zM343.98 516.40h4.75v12.5h-4.75zM350.24 516.40h4.75v12.5h-4.75z"/>
<rect x="0" y="408.0" width="382" height="1.55" fill="#222226"/>
<rect x="0" y="438.4" width="382" height="1.6" fill="#222226"/>
<rect x="0" y="453.75" width="382" height="1.4" fill="#222226"/>
<rect x="0" y="468.85" width="382" height="1.4" fill="#222226"/>
<rect x="0" y="484.0" width="382" height="1.45" fill="#222226"/>
<rect x="0" y="499.0" width="382" height="1.6" fill="#222226"/>
<rect x="0" y="514.45" width="382" height="1.55" fill="#222226"/>
<rect x="0" y="529.8" width="382" height="1.2" fill="#222226"/>
<text x="197" y="419.20" font-size="8.25" text-anchor="end">Sensitizing</text>
<text x="197" y="434.80" font-size="8.25" text-anchor="end">T790M</text>
<text x="197" y="450.30" font-size="8.25" text-anchor="end">T790M loss</text>
<text x="359.8" y="419.20" font-size="8.25">100%</text>
<text x="359.8" y="434.80" font-size="8.25">80%</text>
<text x="359.8" y="450.30" font-size="8.25">16%</text>
<text x="359.8" y="465.00" font-size="8.25">0%</text>
<text x="359.8" y="480.30" font-size="8.25">0%</text>
<text x="359.8" y="495.50" font-size="8.25">0%</text>
<text x="359.8" y="510.80" font-size="8.25">0%</text>
<text x="359.8" y="526.10" font-size="8.25">0%</text>
<text x="143.6" y="426.90" font-size="8.25" font-weight="bold" text-anchor="end">Baseline plasma mutations</text>
<text x="143.6" y="465.00" font-size="8.25" font-weight="bold" text-anchor="end">Acquired <tspan font-style="italic">EGFR</tspan> mutations</text>
<text x="143.6" y="480.30" font-size="8.25" font-weight="bold" text-anchor="end">Acquired amplifications</text>
<text x="143.6" y="495.50" font-size="8.25" font-weight="bold" text-anchor="end" textLength="102.8" lengthAdjust="spacingAndGlyphs">Acquired oncogenic fusions</text>
<text x="143.6" y="510.80" font-size="8.25" font-weight="bold" text-anchor="end">Acquired MAPK/PI3K alterations</text>
<text x="143.6" y="526.10" font-size="8.25" font-weight="bold" text-anchor="end">Acquired cell cycle gene alterations</text>
<text x="0.3" y="392.6" font-size="9.5" font-weight="bold">b</text>
<rect x="124.4" y="397" width="2.3" height="6.8" fill="#f9d96f"/>
<rect x="170.0" y="397" width="2.3" height="6.8" fill="#000000"/>
<rect x="210.8" y="397" width="2.3" height="6.8" fill="#ec8cb9"/>
<rect x="251.1" y="397" width="2.3" height="6.8" fill="#d7de24"/>
<text x="131.1" y="403.7" font-size="8.25">Ex19del</text>
<text x="175.4" y="403.7" font-size="8.25">L858R</text>
<text x="216.9" y="403.7" font-size="8.25">T790M</text>
<text x="257.5" y="403.7" font-size="8.25">T790M loss</text>
</svg></body></html>
